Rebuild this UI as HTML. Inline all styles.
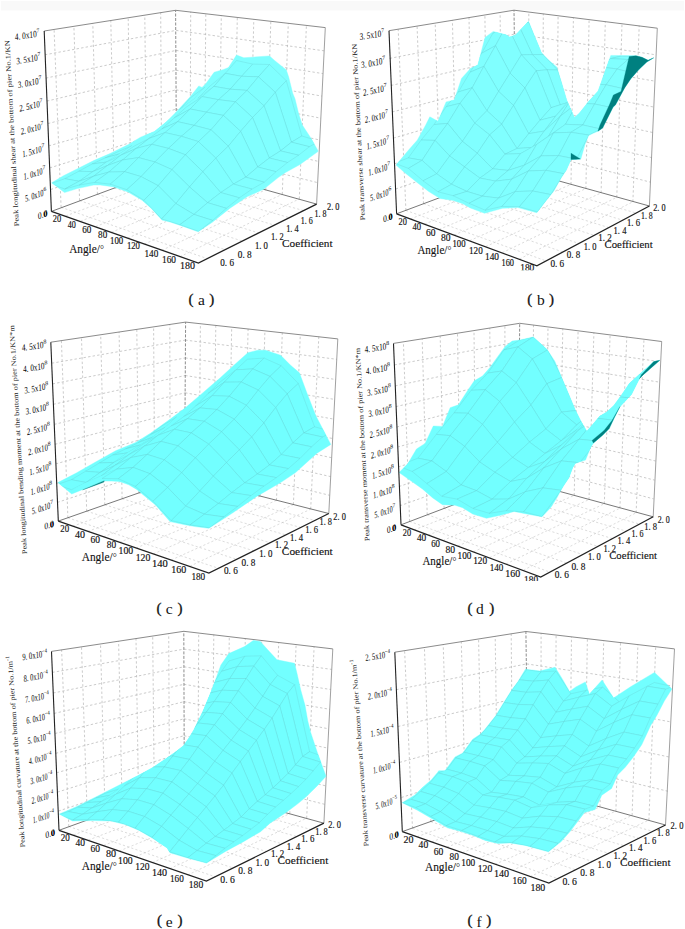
<!DOCTYPE html>
<html><head><meta charset="utf-8"><style>
html,body{margin:0;padding:0;background:#fff;}
body{width:685px;height:929px;overflow:hidden;}
svg{display:block;font-family:"Liberation Serif",serif;}
.gd{stroke:#b4b4b4;stroke-width:0.7;stroke-dasharray:2.4 2.2;fill:none}
.gf{stroke:#c4c4c4;stroke-width:0.6;stroke-dasharray:2.2 2.2;fill:none}
.bk{stroke:#808080;stroke-width:0.9;stroke-dasharray:3 1.5;fill:none}
.fb{stroke:#555;stroke-width:0.8;fill:none}
.tp{stroke:#767676;stroke-width:0.85;fill:none}
.rv{stroke:#888;stroke-width:0.8;fill:none}
.ax{stroke:#222;stroke-width:1.1;fill:none}
.ax2{stroke:#222;stroke-width:1.3;fill:none;stroke-linejoin:miter}
.sf{fill:#80ffff;stroke:#80ffff;stroke-width:0.4;stroke-linejoin:round}
.dk{fill:#008080;stroke:#008080;stroke-width:0.3}
.dl{fill:none;stroke:#008080;stroke-width:1.4}
.ms{fill:none;stroke:#5fd6d8;stroke-width:0.5}
.pc .sf,.pd .sf,.pe .sf,.pf .sf{fill:#72ffff;stroke:#72ffff}
.pc .mf path,.pd .mf path,.pe .mf path,.pf .mf path{fill:#72ffff}
.mf path.n{stroke:none}
.mf path{fill:#80ffff;stroke:#6ad3d6;stroke-width:0.36;stroke-linejoin:round}
text{fill:#111}
.tz{font-size:9.6px;fill:#000}
.tzb{font-weight:bold;font-size:8.5px}
.ta{font-size:9.6px;fill:#111;stroke:#111;stroke-width:0.15}
.tt{font-size:11.8px;fill:#111;stroke:#111;stroke-width:0.12}
.tc{font-size:11.3px;fill:#111;stroke:#111;stroke-width:0.12}
.ty{font-size:7px;fill:#222}
.cap{font-size:15.5px;fill:#111}
.cp{stroke:#111;stroke-width:0.3;font-size:15px}
</style></head><body>
<svg width="685" height="929" viewBox="0 0 685 929">
<rect x="0" y="0" width="685" height="929" fill="#fff"/>
<rect x="1" y="1" width="683" height="9.5" fill="#f9f9f9"/>
<g class="pa"><path class="gd" d="M50.7 189.5L176.1 147M176.1 147L317.8 182.7M49.8 167.9L176.1 128.2M176.1 128.2L318.8 161.5M48.8 145.9L176.1 109.1M176.1 109.1L319.8 140M47.9 123.6L176.1 89.8M176.1 89.8L320.8 118.2M46.9 101.1L176.1 70.2M176.1 70.2L321.8 96.1M45.9 78.1L176.1 50.4M176.1 50.4L322.9 73.6M44.9 54.8L176.1 30.4M176.1 30.4L324 50.8M61.1 207.3L54.1 29.6M79.6 200.6L73.9 26.4M97.4 194.2L92.8 23.4M114.4 188L110.8 20.5M130.7 182.1L128.2 17.7M146.5 176.4L144.8 15.1M161.6 170.9L160.7 12.5M190.1 169.3L190.7 11.8M204.4 173.2L205.8 13.6M219.1 177.2L221.3 15.4M234.2 181.3L237.3 17.3M249.8 185.5L253.8 19.3M265.8 189.8L270.8 21.3M282.3 194.3L288.3 23.3M299.3 198.9L306.4 25.5"/>
<path class="gf" d="M61.1 207.3L207.7 258.8M79.6 200.6L225.6 249.8M97.4 194.2L242.6 241.2M114.4 188L258.8 233M130.7 182.1L274.3 225.1M146.5 176.4L289.1 217.6M161.6 170.9L303.2 210.5M65.8 215.9L190.1 169.3M80.5 221.2L204.4 173.2M95.7 226.6L219.1 177.2M111.4 232.3L234.2 181.3M127.7 238.1L249.8 185.5M144.4 244.1L265.8 189.8M161.8 250.3L282.3 194.3M179.8 256.8L299.3 198.9"/>
<line class="bk" x1="176.5" y1="165" x2="175.6" y2="10.3"/>
<polyline class="fb" points="51.4,211.4 176.5,165 316.6,204.1"/>
<polyline class="tp" points="44.2,31 175.6,10.3 325.3,27.6"/>
<line class="rv" x1="316.6" y1="204.1" x2="325.3" y2="27.6"/>
<polygon class="sf" points="51.7,182.8 63.4,175.8 77.4,168.8 93.7,160.6 110,153.6 128.8,144.3 140.5,137.2 154.5,131.4 166.2,122 175.5,112.7 189.5,97.5 198.8,85.9 202,87.5 206,83.5 214.1,72.3 223.7,69.4 228.5,67.5 236.5,55 243.8,57.8 269.5,55.9 274.3,60.2 286.3,69.9 288.7,77.1 292.7,93.2 295,98.8 298.6,113.4 302.3,125 311,138.2 318.3,151.3 300,164.5 285.5,172.5 278.2,177.6 263.6,189.3 247.5,196.6 230,208.2 212.1,222.4 198.1,231.8 181.8,225.9 170,222 161.9,220.1 151.4,208.4 142,200.2 128,192 114,186.9 100,185 93.7,185.1 77.4,188.6 64.5,192.6"/>
<clipPath id="clipa"><polygon points="51.7,182.8 63.4,175.8 77.4,168.8 93.7,160.6 110,153.6 128.8,144.3 140.5,137.2 154.5,131.4 166.2,122 175.5,112.7 189.5,97.5 198.8,85.9 202,87.5 206,83.5 214.1,72.3 223.7,69.4 228.5,67.5 236.5,55 243.8,57.8 269.5,55.9 274.3,60.2 286.3,69.9 288.7,77.1 292.7,93.2 295,98.8 298.6,113.4 302.3,125 311,138.2 318.3,151.3 300,164.5 285.5,172.5 278.2,177.6 263.6,189.3 247.5,196.6 230,208.2 212.1,222.4 198.1,231.8 181.8,225.9 170,222 161.9,220.1 151.4,208.4 142,200.2 128,192 114,186.9 100,185 93.7,185.1 77.4,188.6 64.5,192.6"/></clipPath>
<g class="mf" clip-path="url(#clipa)"><path class="n" d="M165.1 123.3L179.3 110.0L190.4 97.8L176.1 112.2Z"/><path class="n" d="M153.8 132.4L167.9 120.7L179.3 110.0L165.1 123.3Z"/><path d="M179.3 110.0L194.0 99.1L205.1 87.0L190.4 97.8Z"/><path class="n" d="M142.1 137.7L156.3 127.8L167.9 120.7L153.8 132.4Z"/><path class="n" d="M167.9 120.7L182.6 110.2L194.0 99.1L179.3 110.0Z"/><path class="n" d="M194.0 99.1L209.4 86.6L220.5 74.3L205.1 87.0Z"/><path class="n" d="M130.2 145.0L144.3 137.0L156.3 127.8L142.1 137.7Z"/><path class="n" d="M156.3 127.8L171.0 118.0L182.6 110.2L167.9 120.7Z"/><path class="n" d="M182.6 110.2L197.9 98.4L209.4 86.6L194.0 99.1Z"/><path class="n" d="M117.9 151.7L132.0 145.8L144.3 137.0L130.2 145.0Z"/><path class="n" d="M209.4 86.6L225.3 73.4L236.5 60.5L220.5 74.3Z"/><path class="n" d="M144.3 137.0L159.0 127.9L171.0 118.0L156.3 127.8Z"/><path class="n" d="M171.0 118.0L186.3 107.1L197.9 98.4L182.6 110.2Z"/><path d="M105.2 157.9L119.3 153.9L132.0 145.8L117.9 151.7Z"/><path d="M197.9 98.4L213.9 86.4L225.3 73.4L209.4 86.6Z"/><path class="n" d="M132.0 145.8L146.7 137.6L159.0 127.9L144.3 137.0Z"/><path d="M225.3 73.4L241.6 76.3L252.7 64.1L236.5 60.5Z"/><path class="n" d="M159.0 127.9L174.2 118.0L186.3 107.1L171.0 118.0Z"/><path d="M92.1 164.0L106.3 162.1L119.3 153.9L105.2 157.9Z"/><path class="n" d="M186.3 107.1L202.1 96.6L213.9 86.4L197.9 98.4Z"/><path class="n" d="M119.3 153.9L134.0 146.2L146.7 137.6L132.0 145.8Z"/><path d="M213.9 86.4L230.2 89.2L241.6 76.3L225.3 73.4Z"/><path d="M241.6 76.3L258.4 76.8L269.5 64.5L252.7 64.1Z"/><path class="n" d="M146.7 137.6L161.9 128.9L174.2 118.0L159.0 127.9Z"/><path d="M78.7 171.3L92.9 171.6L106.3 162.1L92.1 164.0Z"/><path d="M174.2 118.0L190.1 109.0L202.1 96.6L186.3 107.1Z"/><path class="n" d="M106.3 162.1L120.9 155.2L134.0 146.2L119.3 153.9Z"/><path d="M202.1 96.6L218.5 99.7L230.2 89.2L213.9 86.4Z"/><path d="M230.2 89.2L247.0 90.4L258.4 76.8L241.6 76.3Z"/><path d="M258.4 76.8L275.3 92.3L286.3 80.7L269.5 64.5Z"/><path class="n" d="M134.0 146.2L149.2 138.4L161.9 128.9L146.7 137.6Z"/><path d="M275.3 92.3L291.4 142.2L301.8 136.0L286.3 80.7Z"/><path d="M161.9 128.9L177.7 121.7L190.1 109.0L174.2 118.0Z"/><path d="M64.8 178.7L79.1 181.3L92.9 171.6L78.7 171.3Z"/><path d="M190.1 109.0L206.5 112.2L218.5 99.7L202.1 96.6Z"/><path d="M92.9 171.6L107.5 165.5L120.9 155.2L106.3 162.1Z"/><path d="M218.5 99.7L235.4 101.8L247.0 90.4L230.2 89.2Z"/><path d="M291.4 142.2L309.4 146.7L319.7 141.2L301.8 136.0Z"/><path d="M247.0 90.4L264.0 105.8L275.3 92.3L258.4 76.8Z"/><path d="M120.9 155.2L136.1 148.5L149.2 138.4L134.0 146.2Z"/><path d="M264.0 105.8L280.5 150.9L291.4 142.2L275.3 92.3Z"/><path d="M149.2 138.4L165.0 132.6L177.7 121.7L161.9 128.9Z"/><path d="M50.4 183.8L64.8 189.0L79.1 181.3L64.8 178.7Z"/><path d="M177.7 121.7L194.1 125.4L206.5 112.2L190.1 109.0Z"/><path d="M79.1 181.3L93.7 176.2L107.5 165.5L92.9 171.6Z"/><path d="M206.5 112.2L223.4 115.4L235.4 101.8L218.5 99.7Z"/><path d="M235.4 101.8L252.5 117.5L264.0 105.8L247.0 90.4Z"/><path d="M280.5 150.9L298.6 155.2L309.4 146.7L291.4 142.2Z"/><path d="M107.5 165.5L122.6 160.0L136.1 148.5L120.9 155.2Z"/><path d="M252.5 117.5L269.3 158.0L280.5 150.9L264.0 105.8Z"/><path d="M136.1 148.5L151.9 144.3L165.0 132.6L149.2 138.4Z"/><path d="M165.0 132.6L181.4 136.3L194.1 125.4L177.7 121.7Z"/><path d="M194.1 125.4L211.0 129.8L223.4 115.4L206.5 112.2Z"/><path d="M64.8 189.0L79.3 185.0L93.7 176.2L79.1 181.3Z"/><path d="M223.4 115.4L240.6 131.3L252.5 117.5L235.4 101.8Z"/><path d="M269.3 158.0L287.5 162.5L298.6 155.2L280.5 150.9Z"/><path d="M93.7 176.2L108.8 172.1L122.6 160.0L107.5 165.5Z"/><path d="M122.6 160.0L138.5 157.6L151.9 144.3L136.1 148.5Z"/><path d="M240.6 131.3L257.7 167.0L269.3 158.0L252.5 117.5Z"/><path d="M151.9 144.3L168.4 148.4L181.4 136.3L165.0 132.6Z"/><path d="M181.4 136.3L198.4 141.6L211.0 129.8L194.1 125.4Z"/><path d="M211.0 129.8L228.3 146.2L240.6 131.3L223.4 115.4Z"/><path d="M79.3 185.0L94.5 182.4L108.8 172.1L93.7 176.2Z"/><path d="M257.7 167.0L276.0 171.7L287.5 162.5L269.3 158.0Z"/><path d="M108.8 172.1L124.6 171.7L138.5 157.6L122.6 160.0Z"/><path d="M228.3 146.2L245.7 177.2L257.7 167.0L240.6 131.3Z"/><path d="M138.5 157.6L154.9 162.0L168.4 148.4L151.9 144.3Z"/><path d="M198.4 141.6L215.8 158.1L228.3 146.2L211.0 129.8Z"/><path d="M168.4 148.4L185.4 154.8L198.4 141.6L181.4 136.3Z"/><path d="M245.7 177.2L264.2 182.2L276.0 171.7L257.7 167.0Z"/><path d="M94.5 182.4L110.3 184.1L124.6 171.7L108.8 172.1Z"/><path d="M215.8 158.1L233.4 184.1L245.7 177.2L228.3 146.2Z"/><path d="M124.6 171.7L141.1 176.6L154.9 162.0L138.5 157.6Z"/><path d="M185.4 154.8L202.8 171.7L215.8 158.1L198.4 141.6Z"/><path d="M154.9 162.0L172.0 169.6L185.4 154.8L168.4 148.4Z"/><path d="M233.4 184.1L252.0 189.1L264.2 182.2L245.7 177.2Z"/><path d="M202.8 171.7L220.7 192.6L233.4 184.1L215.8 158.1Z"/><path d="M110.3 184.1L126.8 189.7L141.1 176.6L124.6 171.7Z"/><path d="M141.1 176.6L158.2 185.7L172.0 169.6L154.9 162.0Z"/><path d="M172.0 169.6L189.5 186.9L202.8 171.7L185.4 154.8Z"/><path d="M220.7 192.6L239.4 197.8L252.0 189.1L233.4 184.1Z"/><path d="M189.5 186.9L207.6 202.7L220.7 192.6L202.8 171.7Z"/><path d="M158.2 185.7L175.8 203.5L189.5 186.9L172.0 169.6Z"/><path d="M126.8 189.7L143.9 200.3L158.2 185.7L141.1 176.6Z"/><path d="M207.6 202.7L226.3 208.3L239.4 197.8L220.7 192.6Z"/><path d="M175.8 203.5L193.9 214.4L207.6 202.7L189.5 186.9Z"/><path d="M143.9 200.3L161.7 218.9L175.8 203.5L158.2 185.7Z"/><path d="M161.7 218.9L179.8 224.7L193.9 214.4L175.8 203.5Z"/><path d="M193.9 214.4L212.7 220.4L226.3 208.3L207.6 202.7Z"/><path d="M179.8 224.7L198.7 231.4L212.7 220.4L193.9 214.4Z"/></g>
<line class="ax" x1="51.4" y1="211.4" x2="44.2" y2="31"/>
<polyline class="ax2" points="51.4,211.4 198.4,263 316.6,204.1"/>
<text class="tz" transform="matrix(0.940 -0.341 0.043 0.999 47.4 216)" text-anchor="end" textLength="10" lengthAdjust="spacingAndGlyphs">0.0</text><text class="tz tzb" transform="matrix(0.940 -0.341 0.043 0.999 47.4 216)" text-anchor="end">0</text>
<text class="tz" transform="matrix(0.947 -0.321 0.043 0.999 46.5 194.7)" text-anchor="end"><tspan textLength="19.4" lengthAdjust="spacingAndGlyphs" xml:space="preserve">5. 0x10</tspan><tspan font-size="6" dy="-4.2">6</tspan></text>
<text class="tz" transform="matrix(0.954 -0.300 0.043 0.999 45.6 173.1)" text-anchor="end"><tspan textLength="19.8" lengthAdjust="spacingAndGlyphs" xml:space="preserve">1. 0x10</tspan><tspan font-size="6" dy="-4.2">7</tspan></text>
<text class="tz" transform="matrix(0.961 -0.278 0.043 0.999 44.6 151.1)" text-anchor="end"><tspan textLength="20.1" lengthAdjust="spacingAndGlyphs" xml:space="preserve">1. 5x10</tspan><tspan font-size="6" dy="-4.2">7</tspan></text>
<text class="tz" transform="matrix(0.967 -0.255 0.043 0.999 43.7 128.8)" text-anchor="end"><tspan textLength="20.5" lengthAdjust="spacingAndGlyphs" xml:space="preserve">2. 0x10</tspan><tspan font-size="6" dy="-4.2">7</tspan></text>
<text class="tz" transform="matrix(0.973 -0.232 0.043 0.999 42.7 106.3)" text-anchor="end"><tspan textLength="20.9" lengthAdjust="spacingAndGlyphs" xml:space="preserve">2. 5x10</tspan><tspan font-size="6" dy="-4.2">7</tspan></text>
<text class="tz" transform="matrix(0.978 -0.208 0.043 0.999 41.7 83.3)" text-anchor="end"><tspan textLength="21.2" lengthAdjust="spacingAndGlyphs" xml:space="preserve">3. 0x10</tspan><tspan font-size="6" dy="-4.2">7</tspan></text>
<text class="tz" transform="matrix(0.983 -0.183 0.043 0.999 40.7 60)" text-anchor="end"><tspan textLength="21.6" lengthAdjust="spacingAndGlyphs" xml:space="preserve">3. 5x10</tspan><tspan font-size="6" dy="-4.2">7</tspan></text>
<text class="tz" transform="matrix(0.987 -0.158 0.043 0.999 39.7 36.4)" text-anchor="end"><tspan textLength="22" lengthAdjust="spacingAndGlyphs" xml:space="preserve">4. 0x10</tspan><tspan font-size="6" dy="-4.2">7</tspan></text>
<text class="ta" x="52.8" y="221.6" textLength="8.4" lengthAdjust="spacingAndGlyphs">20</text>
<text class="ta" x="67.7" y="227.5" textLength="8.1" lengthAdjust="spacingAndGlyphs">40</text>
<text class="ta" x="82.3" y="232.5" textLength="9.1" lengthAdjust="spacingAndGlyphs">60</text>
<text class="ta" x="98.1" y="238.4" textLength="9.1" lengthAdjust="spacingAndGlyphs">80</text>
<text class="ta" x="110" y="243.5" textLength="13.2" lengthAdjust="spacingAndGlyphs">100</text>
<text class="ta" x="126.9" y="249.3" textLength="13.1" lengthAdjust="spacingAndGlyphs">120</text>
<text class="ta" x="144.5" y="256.5" textLength="13.8" lengthAdjust="spacingAndGlyphs">140</text>
<text class="ta" x="162" y="262.5" textLength="14" lengthAdjust="spacingAndGlyphs">160</text>
<text class="ta" x="180" y="269" textLength="15" lengthAdjust="spacingAndGlyphs">180</text>
<text class="ta" x="220.3" y="265.6" textLength="13.7" lengthAdjust="spacingAndGlyphs" xml:space="preserve">0. 6</text>
<text class="ta" x="237.8" y="257.6" textLength="13.9" lengthAdjust="spacingAndGlyphs" xml:space="preserve">0. 8</text>
<text class="ta" x="254.9" y="248.5" textLength="13.1" lengthAdjust="spacingAndGlyphs" xml:space="preserve">1. 0</text>
<text class="ta" x="271.1" y="239.6" textLength="12.6" lengthAdjust="spacingAndGlyphs" xml:space="preserve">1. 2</text>
<text class="ta" x="286.2" y="231.8" textLength="12.5" lengthAdjust="spacingAndGlyphs" xml:space="preserve">1. 4</text>
<text class="ta" x="300.7" y="224.1" textLength="12" lengthAdjust="spacingAndGlyphs" xml:space="preserve">1. 6</text>
<text class="ta" x="314.4" y="217" textLength="12" lengthAdjust="spacingAndGlyphs" xml:space="preserve">1. 8</text>
<text class="ta" x="327" y="209.9" textLength="12.5" lengthAdjust="spacingAndGlyphs" xml:space="preserve">2. 0</text>
<text class="tt" x="69.2" y="253.4" textLength="34.7" lengthAdjust="spacingAndGlyphs">Angle/<tspan style="stroke:none;font-size:10.5px">&#176;</tspan></text>
<text class="tc" x="282" y="247.2" textLength="50.6" lengthAdjust="spacingAndGlyphs">Coefficient</text>
<text class="ty" transform="translate(19 226.2) rotate(-92.92)" textLength="186.3" lengthAdjust="spacingAndGlyphs">Peak longitudinal shear at the bottom of pier No.1/KN</text>
<text class="cap cp" x="188.4" y="304.2">(</text><text class="cap" x="197.9" y="305.1">a</text><text class="cap cp" x="209.3" y="304.2">)</text></g>
<g class="pb"><path class="gd" d="M395.7 189L515.5 147.2M515.5 147.2L650.5 182.2M394.5 163.8L515.4 125.2M515.4 125.2L651.6 157.6M393.4 138.1L515.2 102.9M515.2 102.9L652.6 132.5M392.2 112L515.1 80.3M515.1 80.3L653.6 107M391 85.5L515 57.3M515 57.3L654.7 81.1M389.7 58.4L514.9 34M514.9 34L655.8 54.8M405.9 210.4L398.2 29.3M423.5 203.7L417.1 26.2M440.4 197.3L435.2 23.3M456.7 191.2L452.4 20.4M472.3 185.3L469 17.7M487.2 179.6L484.9 15.2M501.7 174.1L500.1 12.7M528.9 172.6L528.8 12M542.6 176.4L543.3 13.8M556.6 180.4L558.1 15.7M571 184.4L573.4 17.6M585.9 188.6L589.1 19.5M601.1 192.9L605.3 21.5M616.8 197.3L622 23.6M632.9 201.8L639.2 25.7"/>
<path class="gf" d="M405.9 210.4L546 260.9M423.5 203.7L562.9 252M440.4 197.3L579 243.5M456.7 191.2L594.4 235.4M472.3 185.3L609.1 227.7M487.2 179.6L623.2 220.3M501.7 174.1L636.7 213.2M410.5 218.9L528.9 172.6M424.6 224.1L542.6 176.4M439.2 229.4L556.6 180.4M454.2 235L571 184.4M469.7 240.7L585.9 188.6M485.8 246.6L601.1 192.9M502.3 252.7L616.8 197.3M519.5 259L632.9 201.8"/>
<line class="bk" x1="516.1" y1="169.1" x2="514" y2="10.2"/>
<polyline class="fb" points="396.6,213.8 516.1,169.1 649.4,206"/>
<polyline class="tp" points="389,30.7 514,10.2 657.3,28.2"/>
<line class="rv" x1="649.4" y1="206" x2="657.3" y2="28.2"/>
<polygon class="sf" points="396,165.1 408.6,150 417.4,140 425.7,125 429.8,116.8 438,121.3 446.1,101.9 454.3,99.9 461.5,78.4 470.7,68.2 477.8,65.1 485,37.5 493.2,31.4 506.5,35 509.5,37.1 515.7,35 528.5,21.3 534.3,35.4 541.5,52.8 548.6,60 556.8,67.1 560.9,80.4 567,100.9 574.5,117.5 579.3,113.2 588.6,101.5 598.1,91 610.8,55.4 628,55.6 636,55.7 642,57.3 648.1,60.3 653.7,57.8 646.8,62 638.9,69.5 630.8,78.7 624.6,87.9 615.4,105 613.1,107 602.6,128 597.9,131.3 593.2,133.3 588.6,135.6 585,144.4 581,158.4 580.4,159.2 571,159.6 566.4,170 561.4,177.6 553.9,190.9 546.3,200.4 536.8,212.7 517.8,207.6 502.6,208.3 484.6,213.3 470.4,208 462.8,203.8 453.3,200.4 440,198.5 428.7,191.5 417.4,182.7 404.8,172.7"/>
<clipPath id="clipb"><polygon points="396,165.1 408.6,150 417.4,140 425.7,125 429.8,116.8 438,121.3 446.1,101.9 454.3,99.9 461.5,78.4 470.7,68.2 477.8,65.1 485,37.5 493.2,31.4 506.5,35 509.5,37.1 515.7,35 528.5,21.3 534.3,35.4 541.5,52.8 548.6,60 556.8,67.1 560.9,80.4 567,100.9 574.5,117.5 579.3,113.2 588.6,101.5 598.1,91 610.8,55.4 628,55.6 636,55.7 642,57.3 648.1,60.3 653.7,57.8 646.8,62 638.9,69.5 630.8,78.7 624.6,87.9 615.4,105 613.1,107 602.6,128 597.9,131.3 593.2,133.3 588.6,135.6 585,144.4 581,158.4 580.4,159.2 571,159.6 566.4,170 561.4,177.6 553.9,190.9 546.3,200.4 536.8,212.7 517.8,207.6 502.6,208.3 484.6,213.3 470.4,208 462.8,203.8 453.3,200.4 440,198.5 428.7,191.5 417.4,182.7 404.8,172.7"/></clipPath>
<g class="mf" clip-path="url(#clipb)"><path d="M504.1 35.2L518.0 23.8L528.8 22.2L514.9 35.3Z"/><path d="M518.0 23.8L532.4 54.6L543.1 54.6L528.8 22.2Z"/><path d="M492.8 33.4L506.8 24.7L518.0 23.8L504.1 35.2Z"/><path d="M532.4 54.6L547.1 69.8L557.6 70.0L543.1 54.6Z"/><path d="M547.1 69.8L561.8 108.9L572.0 112.3L557.6 70.0Z"/><path d="M506.8 24.7L521.4 54.8L532.4 54.6L518.0 23.8Z"/><path d="M481.6 53.3L495.5 45.7L506.8 24.7L492.8 33.4Z"/><path d="M561.8 108.9L577.3 101.4L587.5 103.3L572.0 112.3Z"/><path d="M521.4 54.8L536.2 70.8L547.1 69.8L532.4 54.6Z"/><path d="M470.1 72.2L483.9 66.3L495.5 45.7L481.6 53.3Z"/><path d="M495.5 45.7L510.1 73.1L521.4 54.8L506.8 24.7Z"/><path d="M536.2 70.8L551.1 107.7L561.8 108.9L547.1 69.8Z"/><path d="M458.3 92.0L472.2 87.8L483.9 66.3L470.1 72.2Z"/><path d="M510.1 73.1L524.9 87.9L536.2 70.8L521.4 54.8Z"/><path d="M483.9 66.3L498.6 91.4L510.1 73.1L495.5 45.7Z"/><path d="M551.1 107.7L566.6 102.8L577.3 101.4L561.8 108.9Z"/><path d="M524.9 87.9L540.0 120.2L551.1 107.7L536.2 70.8Z"/><path d="M577.3 101.4L593.7 76.2L604.0 75.0L587.5 103.3Z"/><path d="M446.2 106.7L460.0 103.3L472.2 87.8L458.3 92.0Z"/><path d="M498.6 91.4L513.5 105.4L524.9 87.9L510.1 73.1Z"/><path d="M472.2 87.8L486.9 110.7L498.6 91.4L483.9 66.3Z"/><path d="M540.0 120.2L555.6 116.2L566.6 102.8L551.1 107.7Z"/><path d="M513.5 105.4L528.7 133.7L540.0 120.2L524.9 87.9Z"/><path d="M486.9 110.7L501.7 124.2L513.5 105.4L498.6 91.4Z"/><path d="M433.9 124.6L447.7 123.4L460.0 103.3L446.2 106.7Z"/><path d="M460.0 103.3L474.8 123.1L486.9 110.7L472.2 87.8Z"/><path d="M566.6 102.8L583.0 82.0L593.7 76.2L577.3 101.4Z"/><path d="M528.7 133.7L544.2 131.1L555.6 116.2L540.0 120.2Z"/><path d="M593.7 76.2L610.7 58.6L621.0 56.1L604.0 75.0Z"/><path d="M501.7 124.2L517.0 148.5L528.7 133.7L513.5 105.4Z"/><path d="M421.2 140.0L435.0 140.4L447.7 123.4L433.9 124.6Z"/><path d="M474.8 123.1L489.6 134.9L501.7 124.2L486.9 110.7Z"/><path d="M447.7 123.4L462.4 141.4L474.8 123.1L460.0 103.3Z"/><path class="n" d="M555.6 116.2L571.9 98.0L583.0 82.0L566.6 102.8Z"/><path d="M517.0 148.5L532.5 147.4L544.2 131.1L528.7 133.7Z"/><path d="M489.6 134.9L505.0 154.2L517.0 148.5L501.7 124.2Z"/><path d="M408.3 157.9L422.1 160.3L435.0 140.4L421.2 140.0Z"/><path d="M462.4 141.4L477.3 153.2L489.6 134.9L474.8 123.1Z"/><path class="n" d="M583.0 82.0L600.0 66.9L610.7 58.6L593.7 76.2Z"/><path d="M435.0 140.4L449.7 156.0L462.4 141.4L447.7 123.4Z"/><path d="M610.7 58.6L627.9 59.5L638.0 56.9L621.0 56.1Z"/><path d="M544.2 131.1L560.4 116.2L571.9 98.0L555.6 116.2Z"/><path d="M505.0 154.2L520.5 153.6L532.5 147.4L517.0 148.5Z"/><path d="M477.3 153.2L492.7 168.8L505.0 154.2L489.6 134.9Z"/><path d="M394.5 163.1L408.4 168.4L422.1 160.3L408.3 157.9Z"/><path d="M449.7 156.0L464.6 166.9L477.3 153.2L462.4 141.4Z"/><path d="M422.1 160.3L436.7 173.8L449.7 156.0L435.0 140.4Z"/><path d="M571.9 98.0L588.8 83.6L600.0 66.9L583.0 82.0Z"/><path d="M532.5 147.4L548.7 135.9L560.4 116.2L544.2 131.1Z"/><path d="M600.0 66.9L617.2 69.0L627.9 59.5L610.7 58.6Z"/><path d="M627.9 59.5L645.6 62.5L655.6 59.6L638.0 56.9Z"/><path d="M464.6 166.9L479.9 178.1L492.7 168.8L477.3 153.2Z"/><path d="M436.7 173.8L451.6 184.3L464.6 166.9L449.7 156.0Z"/><path d="M492.7 168.8L508.2 170.4L520.5 153.6L505.0 154.2Z"/><path d="M560.4 116.2L577.3 103.1L588.8 83.6L571.9 98.0Z"/><path d="M408.4 168.4L423.1 180.8L436.7 173.8L422.1 160.3Z"/><path class="n" d="M520.5 153.6L536.7 144.4L548.7 135.9L532.5 147.4Z"/><path d="M588.8 83.6L606.1 84.8L617.2 69.0L600.0 66.9Z"/><path d="M617.2 69.0L634.9 73.6L645.6 62.5L627.9 59.5Z"/><path d="M548.7 135.9L565.5 124.3L577.3 103.1L560.4 116.2Z"/><path d="M451.6 184.3L466.9 191.4L479.9 178.1L464.6 166.9Z"/><path d="M423.1 180.8L438.0 191.8L451.6 184.3L436.7 173.8Z"/><path d="M479.9 178.1L495.5 181.1L508.2 170.4L492.7 168.8Z"/><path d="M508.2 170.4L524.3 165.2L536.7 144.4L520.5 153.6Z"/><path d="M577.3 103.1L594.6 104.0L606.1 84.8L588.8 83.6Z"/><path d="M606.1 84.8L623.9 88.8L634.9 73.6L617.2 69.0Z"/><path class="n" d="M536.7 144.4L553.5 132.9L565.5 124.3L548.7 135.9Z"/><path d="M438.0 191.8L453.2 195.7L466.9 191.4L451.6 184.3Z"/><path d="M466.9 191.4L482.5 196.2L495.5 181.1L479.9 178.1Z"/><path d="M565.5 124.3L582.8 125.0L594.6 104.0L577.3 103.1Z"/><path d="M495.5 181.1L511.7 179.2L524.3 165.2L508.2 170.4Z"/><path d="M594.6 104.0L612.4 107.8L623.9 88.8L606.1 84.8Z"/><path d="M524.3 165.2L541.1 155.9L553.5 132.9L536.7 144.4Z"/><path d="M453.2 195.7L469.0 203.3L482.5 196.2L466.9 191.4Z"/><path d="M553.5 132.9L570.9 132.3L582.8 125.0L565.5 124.3Z"/><path d="M482.5 196.2L498.7 198.1L511.7 179.2L495.5 181.1Z"/><path d="M582.8 125.0L600.7 129.0L612.4 107.8L594.6 104.0Z"/><path d="M511.7 179.2L528.4 171.0L541.1 155.9L524.3 165.2Z"/><path d="M541.1 155.9L558.5 155.6L570.9 132.3L553.5 132.9Z"/><path d="M469.0 203.3L485.2 210.2L498.7 198.1L482.5 196.2Z"/><path d="M570.9 132.3L588.9 135.1L600.7 129.0L582.8 125.0Z"/><path d="M498.7 198.1L515.3 191.6L528.4 171.0L511.7 179.2Z"/><path d="M528.4 171.0L545.8 170.3L558.5 155.6L541.1 155.9Z"/><path d="M558.5 155.6L576.4 159.2L588.9 135.1L570.9 132.3Z"/><path d="M485.2 210.2L501.9 206.4L515.3 191.6L498.7 198.1Z"/><path d="M515.3 191.6L532.7 191.0L545.8 170.3L528.4 171.0Z"/><path d="M545.8 170.3L563.8 173.7L576.4 159.2L558.5 155.6Z"/><path d="M501.9 206.4L519.3 206.8L532.7 191.0L515.3 191.6Z"/><path d="M532.7 191.0L550.8 194.6L563.8 173.7L545.8 170.3Z"/><path d="M519.3 206.8L537.4 211.9L550.8 194.6L532.7 191.0Z"/></g>
<polygon class="dk" points="629.2,56.5 636,55.7 642,57.3 648.1,60.3 653.7,57.8 646.8,62 638.9,69.5 630.8,78.7 624.6,87.9 615.4,105 613.1,107 602.6,128 597.9,131.3 600,125 609.3,105 613.4,95 621,91.5"/>
<polygon class="dk" points="571,153.2 571,159.6 580.4,159"/>
<line class="ax" x1="396.6" y1="213.8" x2="389" y2="30.7"/>
<polyline class="ax2" points="396.6,213.8 536.9,265.8 649.4,206"/>
<text class="tz" transform="matrix(0.935 -0.354 0.045 0.999 392.6 219)" text-anchor="end" textLength="10" lengthAdjust="spacingAndGlyphs">0.0</text><text class="tz tzb" transform="matrix(0.935 -0.354 0.045 0.999 392.6 219)" text-anchor="end">0</text>
<text class="tz" transform="matrix(0.944 -0.330 0.045 0.999 391.5 194.2)" text-anchor="end"><tspan textLength="19.4" lengthAdjust="spacingAndGlyphs" xml:space="preserve">5. 0x10</tspan><tspan font-size="6" dy="-4.2">6</tspan></text>
<text class="tz" transform="matrix(0.953 -0.304 0.045 0.999 390.3 169)" text-anchor="end"><tspan textLength="19.9" lengthAdjust="spacingAndGlyphs" xml:space="preserve">1. 0x10</tspan><tspan font-size="6" dy="-4.2">7</tspan></text>
<text class="tz" transform="matrix(0.961 -0.278 0.045 0.999 389.2 143.3)" text-anchor="end"><tspan textLength="20.3" lengthAdjust="spacingAndGlyphs" xml:space="preserve">1. 5x10</tspan><tspan font-size="6" dy="-4.2">7</tspan></text>
<text class="tz" transform="matrix(0.968 -0.250 0.045 0.999 388 117.2)" text-anchor="end"><tspan textLength="20.7" lengthAdjust="spacingAndGlyphs" xml:space="preserve">2. 0x10</tspan><tspan font-size="6" dy="-4.2">7</tspan></text>
<text class="tz" transform="matrix(0.975 -0.221 0.045 0.999 386.8 90.7)" text-anchor="end"><tspan textLength="21.1" lengthAdjust="spacingAndGlyphs" xml:space="preserve">2. 5x10</tspan><tspan font-size="6" dy="-4.2">7</tspan></text>
<text class="tz" transform="matrix(0.981 -0.192 0.045 0.999 385.5 63.6)" text-anchor="end"><tspan textLength="21.6" lengthAdjust="spacingAndGlyphs" xml:space="preserve">3. 0x10</tspan><tspan font-size="6" dy="-4.2">7</tspan></text>
<text class="tz" transform="matrix(0.987 -0.161 0.045 0.999 384.3 36.1)" text-anchor="end"><tspan textLength="22" lengthAdjust="spacingAndGlyphs" xml:space="preserve">3. 5x10</tspan><tspan font-size="6" dy="-4.2">7</tspan></text>
<text class="ta" x="398.5" y="224.5" textLength="8.3" lengthAdjust="spacingAndGlyphs">20</text>
<text class="ta" x="412.4" y="230.2" textLength="8.6" lengthAdjust="spacingAndGlyphs">40</text>
<text class="ta" x="426" y="235.5" textLength="9.5" lengthAdjust="spacingAndGlyphs">60</text>
<text class="ta" x="441" y="241" textLength="9.5" lengthAdjust="spacingAndGlyphs">80</text>
<text class="ta" x="452.5" y="247.3" textLength="13.1" lengthAdjust="spacingAndGlyphs">100</text>
<text class="ta" x="469" y="253.5" textLength="13.7" lengthAdjust="spacingAndGlyphs">120</text>
<text class="ta" x="485" y="259.8" textLength="14" lengthAdjust="spacingAndGlyphs">140</text>
<text class="ta" x="501.5" y="266.1" textLength="12.5" lengthAdjust="spacingAndGlyphs">160</text>
<clipPath id="kb"><rect x="515.2" y="250.3" width="40" height="20"/></clipPath>
<text class="ta" x="520.2" y="271.4" textLength="14.1" lengthAdjust="spacingAndGlyphs" clip-path="url(#kb)">180</text>
<text class="ta" x="550.4" y="267.4" textLength="13.8" lengthAdjust="spacingAndGlyphs" xml:space="preserve">0. 6</text>
<text class="ta" x="566.8" y="258.2" textLength="13.5" lengthAdjust="spacingAndGlyphs" xml:space="preserve">0. 8</text>
<text class="ta" x="583.7" y="249.5" textLength="12.7" lengthAdjust="spacingAndGlyphs" xml:space="preserve">1. 0</text>
<text class="ta" x="598.2" y="241" textLength="13.6" lengthAdjust="spacingAndGlyphs" xml:space="preserve">1. 2</text>
<text class="ta" x="613.6" y="234" textLength="12.8" lengthAdjust="spacingAndGlyphs" xml:space="preserve">1. 4</text>
<text class="ta" x="627" y="226.4" textLength="13" lengthAdjust="spacingAndGlyphs" xml:space="preserve">1. 6</text>
<text class="ta" x="641" y="218.8" textLength="11.7" lengthAdjust="spacingAndGlyphs" xml:space="preserve">1. 8</text>
<text class="ta" x="653.2" y="211" textLength="12.3" lengthAdjust="spacingAndGlyphs" xml:space="preserve">2. 0</text>
<text class="tt" x="417.4" y="253.8" textLength="33.9" lengthAdjust="spacingAndGlyphs">Angle/<tspan style="stroke:none;font-size:10.5px">&#176;</tspan></text>
<text class="tc" x="604.6" y="247.6" textLength="48.1" lengthAdjust="spacingAndGlyphs">Coefficient</text>
<text class="ty" transform="translate(365 220.2) rotate(-92.72)" textLength="176.7" lengthAdjust="spacingAndGlyphs">Peak transverse shear at the bottom of pier No.1/KN</text>
<text class="cap cp" x="527.2" y="304.3">(</text><text class="cap" x="537.1" y="305.1">b</text><text class="cap cp" x="549" y="304.3">)</text></g>
<g class="pc"><path class="gd" d="M57.4 502.4L184.9 460.3M184.9 460.3L329.6 495.3M56.6 483.3L185 443.7M185 443.7L330.6 476.6M55.8 463.9L185 426.9M185 426.9L331.6 457.7M55 444.3L185.1 410M185.1 410L332.6 438.5M54.2 424.4L185.1 392.8M185.1 392.8L333.7 419.1M53.4 404.3L185.2 375.5M185.2 375.5L334.7 399.4M52.6 383.9L185.3 357.9M185.3 357.9L335.8 379.5M51.8 363.2L185.3 340.1M185.3 340.1L336.8 359.3M67.9 517.8L61.4 340.6M86.7 511.2L81.5 337.6M104.8 504.8L100.7 334.8M122.1 498.7L119.1 332M138.8 492.9L136.8 329.4M154.7 487.3L153.6 326.9M170.1 481.9L169.8 324.5M199.1 480.3L200.4 323.8M213.7 484.1L215.8 325.5M228.7 488L231.7 327.2M244.2 492L248.1 329M260.1 496.1L264.9 330.9M276.5 500.3L282.3 332.8M293.4 504.6L300.3 334.7M310.7 509.1L318.8 336.7"/>
<path class="gf" d="M67.9 517.8L218.4 568.3M86.7 511.2L236.5 559.3M104.8 504.8L253.7 550.8M122.1 498.7L270.1 542.7M138.8 492.9L285.8 534.9M154.7 487.3L300.7 527.5M170.1 481.9L315 520.5M72.7 526.3L199.1 480.3M87.8 531.4L213.7 484.1M103.4 536.8L228.7 488M119.5 542.3L244.2 492M136.2 548L260.1 496.1M153.4 553.9L276.5 500.3M171.3 560L293.4 504.6M189.8 566.3L310.7 509.1"/>
<line class="bk" x1="184.6" y1="476.9" x2="185.6" y2="322.1"/>
<polyline class="fb" points="58.3,521.1 184.6,476.9 328.8,513.5"/>
<polyline class="tp" points="50.8,342.2 185.6,322.1 337.8,338.9"/>
<line class="rv" x1="328.8" y1="513.5" x2="337.8" y2="338.9"/>
<polygon class="sf" points="57.9,482.6 76.3,473 94.7,462.5 115.7,450.7 135.7,442.5 150.8,433.1 170,419.3 185.1,408 202.7,392.9 220.3,377.8 235.3,364 247.9,352.7 257.9,350.2 265.5,350.2 280.6,355.2 290.6,365.3 299.4,372.8 306.9,392.9 315.7,415.5 330.8,444.4 317,453.2 309.4,460 295.6,472.6 280.6,482.6 256.7,496.4 232.8,512.8 208.9,528.3 195.1,526.6 185.1,524.8 170,521.6 155.8,505.2 140.7,492.7 136.7,489.4 128.8,484.8 119.6,481.5 111.8,481.1 103.9,481.1 82.9,489.4 71.7,494"/>
<clipPath id="clipc"><polygon points="57.9,482.6 76.3,473 94.7,462.5 115.7,450.7 135.7,442.5 150.8,433.1 170,419.3 185.1,408 202.7,392.9 220.3,377.8 235.3,364 247.9,352.7 257.9,350.2 265.5,350.2 280.6,355.2 290.6,365.3 299.4,372.8 306.9,392.9 315.7,415.5 330.8,444.4 317,453.2 309.4,460 295.6,472.6 280.6,482.6 256.7,496.4 232.8,512.8 208.9,528.3 195.1,526.6 185.1,524.8 170,521.6 155.8,505.2 140.7,492.7 136.7,489.4 128.8,484.8 119.6,481.5 111.8,481.1 103.9,481.1 82.9,489.4 71.7,494"/></clipPath>
<g class="mf" clip-path="url(#clipc)"><path class="n" d="M173.8 417.0L188.5 406.8L199.8 396.9L185.1 408.0Z"/><path class="n" d="M162.2 425.7L176.9 416.9L188.5 406.8L173.8 417.0Z"/><path class="n" d="M188.5 406.8L203.7 395.3L215.0 385.4L199.8 396.9Z"/><path d="M150.4 434.7L165.0 427.5L176.9 416.9L162.2 425.7Z"/><path class="n" d="M176.9 416.9L192.1 405.9L203.7 395.3L188.5 406.8Z"/><path class="n" d="M203.7 395.3L219.5 382.5L230.9 372.6L215.0 385.4Z"/><path d="M138.2 442.7L152.8 437.1L165.0 427.5L150.4 434.7Z"/><path class="n" d="M165.0 427.5L180.1 417.2L192.1 405.9L176.9 416.9Z"/><path class="n" d="M192.1 405.9L207.9 393.7L219.5 382.5L203.7 395.3Z"/><path d="M125.6 448.9L140.2 445.0L152.8 437.1L138.2 442.7Z"/><path class="n" d="M152.8 437.1L167.9 427.4L180.1 417.2L165.0 427.5Z"/><path class="n" d="M219.5 382.5L236.0 369.8L247.4 359.2L230.9 372.6Z"/><path class="n" d="M180.1 417.2L195.9 405.8L207.9 393.7L192.1 405.9Z"/><path d="M112.6 455.1L127.2 452.9L140.2 445.0L125.6 448.9Z"/><path d="M207.9 393.7L224.3 382.2L236.0 369.8L219.5 382.5Z"/><path class="n" d="M140.2 445.0L155.3 436.0L167.9 427.4L152.8 437.1Z"/><path d="M236.0 369.8L252.8 368.9L264.1 358.1L247.4 359.2Z"/><path class="n" d="M167.9 427.4L183.6 416.7L195.9 405.8L180.1 417.2Z"/><path d="M99.3 463.0L113.9 462.4L127.2 452.9L112.6 455.1Z"/><path d="M195.9 405.8L212.3 395.6L224.3 382.2L207.9 393.7Z"/><path class="n" d="M127.2 452.9L142.3 444.5L155.3 436.0L140.2 445.0Z"/><path d="M224.3 382.2L241.2 382.0L252.8 368.9L236.0 369.8Z"/><path d="M252.8 368.9L270.0 376.4L281.2 365.7L264.1 358.1Z"/><path class="n" d="M155.3 436.0L171.0 426.1L183.6 416.7L167.9 427.4Z"/><path d="M183.6 416.7L200.0 407.9L212.3 395.6L195.9 405.8Z"/><path d="M85.5 471.3L100.2 472.4L113.9 462.4L99.3 463.0Z"/><path class="n" d="M113.9 462.4L129.0 454.6L142.3 444.5L127.2 452.9Z"/><path d="M212.3 395.6L229.2 396.3L241.2 382.0L224.3 382.2Z"/><path d="M270.0 376.4L287.2 393.8L298.3 383.5L281.2 365.7Z"/><path d="M241.2 382.0L258.3 390.1L270.0 376.4L252.8 368.9Z"/><path class="n" d="M142.3 444.5L158.0 435.3L171.0 426.1L155.3 436.0Z"/><path d="M287.2 393.8L303.9 432.9L314.6 426.8L298.3 383.5Z"/><path d="M171.0 426.1L187.4 418.7L200.0 407.9L183.6 416.7Z"/><path d="M71.4 479.7L86.1 482.5L100.2 472.4L85.5 471.3Z"/><path d="M200.0 407.9L216.9 409.5L229.2 396.3L212.3 395.6Z"/><path d="M100.2 472.4L115.2 465.3L129.0 454.6L113.9 462.4Z"/><path d="M258.3 390.1L275.7 407.5L287.2 393.8L270.0 376.4Z"/><path d="M229.2 396.3L246.4 405.3L258.3 390.1L241.2 382.0Z"/><path d="M303.9 432.9L322.5 437.0L333.0 431.8L314.6 426.8Z"/><path d="M129.0 454.6L144.6 446.1L158.0 435.3L142.3 444.5Z"/><path d="M275.7 407.5L292.8 442.9L303.9 432.9L287.2 393.8Z"/><path d="M158.0 435.3L174.4 429.3L187.4 418.7L171.0 426.1Z"/><path d="M56.7 484.7L71.5 489.7L86.1 482.5L71.4 479.7Z"/><path d="M187.4 418.7L204.3 421.3L216.9 409.5L200.0 407.9Z"/><path d="M246.4 405.3L263.9 422.9L275.7 407.5L258.3 390.1Z"/><path d="M86.1 482.5L101.1 476.1L115.2 465.3L100.2 472.4Z"/><path d="M216.9 409.5L234.2 419.2L246.4 405.3L229.2 396.3Z"/><path d="M292.8 442.9L311.5 446.8L322.5 437.0L303.9 432.9Z"/><path d="M115.2 465.3L130.9 457.6L144.6 446.1L129.0 454.6Z"/><path d="M263.9 422.9L281.2 454.6L292.8 442.9L275.7 407.5Z"/><path d="M144.6 446.1L161.0 441.4L174.4 429.3L158.0 435.3Z"/><path d="M234.2 419.2L251.7 437.0L263.9 422.9L246.4 405.3Z"/><path d="M174.4 429.3L191.3 432.9L204.3 421.3L187.4 418.7Z"/><path d="M204.3 421.3L221.6 431.8L234.2 419.2L216.9 409.5Z"/><path class="n" d="M71.5 489.7L86.4 484.3L101.1 476.1L86.1 482.5Z"/><path d="M281.2 454.6L300.0 458.4L311.5 446.8L292.8 442.9Z"/><path d="M101.1 476.1L116.7 469.2L130.9 457.6L115.2 465.3Z"/><path d="M251.7 437.0L269.4 465.0L281.2 454.6L263.9 422.9Z"/><path d="M130.9 457.6L147.2 454.4L161.0 441.4L144.6 446.1Z"/><path d="M221.6 431.8L239.3 449.8L251.7 437.0L234.2 419.2Z"/><path d="M161.0 441.4L177.9 445.8L191.3 432.9L174.4 429.3Z"/><path d="M191.3 432.9L208.7 444.1L221.6 431.8L204.3 421.3Z"/><path d="M269.4 465.0L288.3 468.6L300.0 458.4L281.2 454.6Z"/><path class="n" d="M86.4 484.3L102.0 478.5L116.7 469.2L101.1 476.1Z"/><path d="M239.3 449.8L257.2 474.1L269.4 465.0L251.7 437.0Z"/><path d="M116.7 469.2L133.0 467.4L147.2 454.4L130.9 457.6Z"/><path d="M208.7 444.1L226.5 462.4L239.3 449.8L221.6 431.8Z"/><path d="M147.2 454.4L164.2 459.8L177.9 445.8L161.0 441.4Z"/><path d="M177.9 445.8L195.4 457.8L208.7 444.1L191.3 432.9Z"/><path d="M257.2 474.1L276.3 477.6L288.3 468.6L269.4 465.0Z"/><path d="M226.5 462.4L244.7 482.8L257.2 474.1L239.3 449.8Z"/><path d="M102.0 478.5L118.3 478.7L133.0 467.4L116.7 469.2Z"/><path d="M195.4 457.8L213.3 476.2L226.5 462.4L208.7 444.1Z"/><path d="M133.0 467.4L150.0 473.7L164.2 459.8L147.2 454.4Z"/><path d="M164.2 459.8L181.7 472.6L195.4 457.8L177.9 445.8Z"/><path d="M244.7 482.8L263.8 486.2L276.3 477.6L257.2 474.1Z"/><path d="M213.3 476.2L231.7 492.6L244.7 482.8L226.5 462.4Z"/><path d="M181.7 472.6L199.7 491.1L213.3 476.2L195.4 457.8Z"/><path d="M150.0 473.7L167.6 487.4L181.7 472.6L164.2 459.8Z"/><path d="M118.3 478.7L135.4 486.4L150.0 473.7L133.0 467.4Z"/><path d="M231.7 492.6L251.0 495.6L263.8 486.2L244.7 482.8Z"/><path d="M199.7 491.1L218.3 503.5L231.7 492.6L213.3 476.2Z"/><path d="M167.6 487.4L185.7 506.1L199.7 491.1L181.7 472.6Z"/><path d="M135.4 486.4L153.0 501.3L167.6 487.4L150.0 473.7Z"/><path d="M185.7 506.1L204.4 514.2L218.3 503.5L199.7 491.1Z"/><path d="M218.3 503.5L237.6 506.4L251.0 495.6L231.7 492.6Z"/><path d="M153.0 501.3L171.2 520.6L185.7 506.1L167.6 487.4Z"/><path d="M171.2 520.6L190.0 524.9L204.4 514.2L185.7 506.1Z"/><path d="M204.4 514.2L223.8 516.9L237.6 506.4L218.3 503.5Z"/><path d="M190.0 524.9L209.5 527.8L223.8 516.9L204.4 514.2Z"/></g>
<polygon class="dk" points="82.6,489.9 104.2,480.8 103.6,482.3"/>
<line class="ax" x1="58.3" y1="521.1" x2="50.8" y2="342.2"/>
<polyline class="ax2" points="58.3,521.1 208.9,573.1 328.8,513.5"/>
<text class="tz" transform="matrix(0.943 -0.332 0.040 0.999 53.9 526.5)" text-anchor="end" textLength="10" lengthAdjust="spacingAndGlyphs">0.0</text><text class="tz tzb" transform="matrix(0.943 -0.332 0.040 0.999 53.9 526.5)" text-anchor="end">0</text>
<text class="tz" transform="matrix(0.950 -0.314 0.040 0.999 53.2 507.6)" text-anchor="end"><tspan textLength="19.3" lengthAdjust="spacingAndGlyphs" xml:space="preserve">5. 0x10</tspan><tspan font-size="6" dy="-4.2">7</tspan></text>
<text class="tz" transform="matrix(0.956 -0.295 0.040 0.999 52.4 488.5)" text-anchor="end"><tspan textLength="19.7" lengthAdjust="spacingAndGlyphs" xml:space="preserve">1. 0x10</tspan><tspan font-size="6" dy="-4.2">8</tspan></text>
<text class="tz" transform="matrix(0.961 -0.275 0.040 0.999 51.6 469.1)" text-anchor="end"><tspan textLength="20" lengthAdjust="spacingAndGlyphs" xml:space="preserve">1. 5x10</tspan><tspan font-size="6" dy="-4.2">8</tspan></text>
<text class="tz" transform="matrix(0.967 -0.255 0.040 0.999 50.8 449.5)" text-anchor="end"><tspan textLength="20.3" lengthAdjust="spacingAndGlyphs" xml:space="preserve">2. 0x10</tspan><tspan font-size="6" dy="-4.2">8</tspan></text>
<text class="tz" transform="matrix(0.972 -0.235 0.040 0.999 50 429.6)" text-anchor="end"><tspan textLength="20.7" lengthAdjust="spacingAndGlyphs" xml:space="preserve">2. 5x10</tspan><tspan font-size="6" dy="-4.2">8</tspan></text>
<text class="tz" transform="matrix(0.977 -0.214 0.040 0.999 49.2 409.5)" text-anchor="end"><tspan textLength="21" lengthAdjust="spacingAndGlyphs" xml:space="preserve">3. 0x10</tspan><tspan font-size="6" dy="-4.2">8</tspan></text>
<text class="tz" transform="matrix(0.981 -0.192 0.040 0.999 48.4 389.1)" text-anchor="end"><tspan textLength="21.3" lengthAdjust="spacingAndGlyphs" xml:space="preserve">3. 5x10</tspan><tspan font-size="6" dy="-4.2">8</tspan></text>
<text class="tz" transform="matrix(0.985 -0.170 0.040 0.999 47.6 368.4)" text-anchor="end"><tspan textLength="21.7" lengthAdjust="spacingAndGlyphs" xml:space="preserve">4. 0x10</tspan><tspan font-size="6" dy="-4.2">8</tspan></text>
<text class="tz" transform="matrix(0.989 -0.147 0.040 0.999 46.7 347.4)" text-anchor="end"><tspan textLength="22" lengthAdjust="spacingAndGlyphs" xml:space="preserve">4. 5x10</tspan><tspan font-size="6" dy="-4.2">8</tspan></text>
<text class="ta" x="60.3" y="532.1" textLength="8.8" lengthAdjust="spacingAndGlyphs">20</text>
<text class="ta" x="74.9" y="538.4" textLength="10" lengthAdjust="spacingAndGlyphs">40</text>
<text class="ta" x="90.5" y="543.4" textLength="9.5" lengthAdjust="spacingAndGlyphs">60</text>
<text class="ta" x="106.8" y="548.4" textLength="9.3" lengthAdjust="spacingAndGlyphs">80</text>
<text class="ta" x="118.6" y="554" textLength="14.6" lengthAdjust="spacingAndGlyphs">100</text>
<text class="ta" x="135.7" y="560.5" textLength="14.6" lengthAdjust="spacingAndGlyphs">120</text>
<text class="ta" x="152" y="567.3" textLength="15.8" lengthAdjust="spacingAndGlyphs">140</text>
<text class="ta" x="171.3" y="573.1" textLength="15" lengthAdjust="spacingAndGlyphs">160</text>
<text class="ta" x="191.4" y="579.8" textLength="13.8" lengthAdjust="spacingAndGlyphs">180</text>
<text class="ta" x="224" y="574.3" textLength="13.8" lengthAdjust="spacingAndGlyphs" xml:space="preserve">0. 6</text>
<text class="ta" x="241.6" y="565.5" textLength="13.8" lengthAdjust="spacingAndGlyphs" xml:space="preserve">0. 8</text>
<text class="ta" x="259.2" y="556.7" textLength="13.3" lengthAdjust="spacingAndGlyphs" xml:space="preserve">1. 0</text>
<text class="ta" x="275" y="548" textLength="13.1" lengthAdjust="spacingAndGlyphs" xml:space="preserve">1. 2</text>
<text class="ta" x="290.1" y="540.9" textLength="13.1" lengthAdjust="spacingAndGlyphs" xml:space="preserve">1. 4</text>
<text class="ta" x="305.2" y="532.9" textLength="13" lengthAdjust="spacingAndGlyphs" xml:space="preserve">1. 6</text>
<text class="ta" x="319.5" y="525.3" textLength="12.5" lengthAdjust="spacingAndGlyphs" xml:space="preserve">1. 8</text>
<text class="ta" x="333.3" y="519.5" textLength="12.5" lengthAdjust="spacingAndGlyphs" xml:space="preserve">2. 0</text>
<text class="tt" x="81.7" y="561" textLength="35.1" lengthAdjust="spacingAndGlyphs">Angle/<tspan style="stroke:none;font-size:10.5px">&#176;</tspan></text>
<text class="tc" x="281.8" y="554.5" textLength="51" lengthAdjust="spacingAndGlyphs">Coefficient</text>
<text class="ty" transform="translate(27 553.9) rotate(-93.25)" textLength="229.1" lengthAdjust="spacingAndGlyphs">Peak longitudinal bending moment at the bottom of pier No.1/KN*m</text>
<text class="cap cp" x="156.5" y="613.4">(</text><text class="cap" x="165.7" y="614.3">c</text><text class="cap cp" x="177.5" y="613.4">)</text></g>
<g class="pd"><path class="gd" d="M399.8 505.8L518.9 463.3M518.9 463.3L653.6 498.9M399 486.5L519 446.5M519 446.5L654.6 480.1M398.3 466.9L519.1 429.5M519.1 429.5L655.6 461M397.5 447.1L519.1 412.4M519.1 412.4L656.6 441.7M396.8 427L519.2 395M519.2 395L657.6 422.1M396 406.6L519.3 377.4M519.3 377.4L658.6 402.3M395.2 385.9L519.4 359.6M519.4 359.6L659.7 382.2M394.4 364.9L519.4 341.6M519.4 341.6L660.7 361.8M409.6 521.4L403.4 342.1M427.2 514.7L422.2 339.1M444.1 508.3L440.2 336.2M460.2 502.1L457.5 333.4M475.8 496.2L474 330.7M490.7 490.6L489.8 328.2M505 485.1L504.9 325.7M532.1 483.6L533.5 325.2M545.8 487.4L548 326.9M559.8 491.4L562.8 328.8M574.2 495.4L578.1 330.7M589 499.6L593.9 332.7M604.3 503.8L610.1 334.7M619.9 508.2L626.8 336.8M636.1 512.8L644 338.9"/>
<path class="gf" d="M409.6 521.4L549.9 572.1M427.2 514.7L566.8 563.1M444.1 508.3L582.8 554.6M460.2 502.1L598.1 546.5M475.8 496.2L612.7 538.7M490.7 490.6L626.6 531.3M505 485.1L639.9 524.2M414.2 529.9L532.1 483.6M428.3 535.1L545.8 487.4M442.9 540.5L559.8 491.4M457.9 546L574.2 495.4M473.5 551.8L589 499.6M489.6 557.7L604.3 503.8M506.2 563.9L619.9 508.2M523.4 570.2L636.1 512.8"/>
<line class="bk" x1="518.3" y1="480.2" x2="519.7" y2="323.3"/>
<polyline class="fb" points="401,524.8 518.3,480.2 653.2,516.8"/>
<polyline class="tp" points="393.5,343.4 519.7,323.3 661.7,341.5"/>
<line class="rv" x1="653.2" y1="516.8" x2="661.7" y2="341.5"/>
<polygon class="sf" points="399.1,472.5 407.8,463.8 416.5,449 425.1,443.4 433.3,426 442.5,426.4 450.2,407.7 458.5,404.8 466.7,391.9 474.3,380.8 482.5,376.1 490,367.4 495.9,359.2 505.2,346.4 512.2,341.1 520.4,339.9 533.3,337 547.1,349.6 554.8,361.2 561.2,376.5 568.8,394.4 575.2,409.7 581.6,422.5 586.8,431.2 600,416.1 606.5,412.2 613.8,405.6 621,395.7 629.5,383.3 642,372.1 653.8,361.6 659.8,360.3 643.3,374.7 639.4,378.7 631.5,394.4 619.7,406.9 609.2,428.6 602.6,435.2 593.4,443 590.8,447 585.5,460.1 579,462.1 575.2,463.5 572.7,467.7 568.8,477.9 563.7,485.6 559.9,492 557.3,497.1 550.9,507.3 542,516.8 525.3,513.7 514.1,511.5 500.3,515.3 486.5,518.3 472.7,514 462.6,507.7 455.1,505.2 442.5,504.7 432.5,497.7 422.4,488.9 409.8,480.1"/>
<clipPath id="clipd"><polygon points="399.1,472.5 407.8,463.8 416.5,449 425.1,443.4 433.3,426 442.5,426.4 450.2,407.7 458.5,404.8 466.7,391.9 474.3,380.8 482.5,376.1 490,367.4 495.9,359.2 505.2,346.4 512.2,341.1 520.4,339.9 533.3,337 547.1,349.6 554.8,361.2 561.2,376.5 568.8,394.4 575.2,409.7 581.6,422.5 586.8,431.2 600,416.1 606.5,412.2 613.8,405.6 621,395.7 629.5,383.3 642,372.1 653.8,361.6 659.8,360.3 643.3,374.7 639.4,378.7 631.5,394.4 619.7,406.9 609.2,428.6 602.6,435.2 593.4,443 590.8,447 585.5,460.1 579,462.1 575.2,463.5 572.7,467.7 568.8,477.9 563.7,485.6 559.9,492 557.3,497.1 550.9,507.3 542,516.8 525.3,513.7 514.1,511.5 500.3,515.3 486.5,518.3 472.7,514 462.6,507.7 455.1,505.2 442.5,504.7 432.5,497.7 422.4,488.9 409.8,480.1"/></clipPath>
<g class="mf" clip-path="url(#clipd)"><path d="M503.9 349.9L517.9 346.9L533.4 336.8L519.4 340.1Z"/><path d="M517.9 346.9L532.3 358.9L547.7 349.8L533.4 336.8Z"/><path d="M487.8 373.1L501.8 371.0L517.9 346.9L503.9 349.9Z"/><path d="M532.3 358.9L546.8 383.7L561.9 377.4L547.7 349.8Z"/><path d="M546.8 383.7L561.5 412.1L576.2 410.5L561.9 377.4Z"/><path d="M501.8 371.0L516.2 382.6L532.3 358.9L517.9 346.9Z"/><path d="M471.2 390.3L485.2 389.7L501.8 371.0L487.8 373.1Z"/><path d="M561.5 412.1L576.7 424.9L591.2 424.7L576.2 410.5Z"/><path d="M516.2 382.6L530.9 405.0L546.8 383.7L532.3 358.9Z"/><path d="M530.9 405.0L545.8 429.0L561.5 412.1L546.8 383.7Z"/><path d="M485.2 389.7L499.7 401.5L516.2 382.6L501.8 371.0Z"/><path d="M454.0 412.9L468.0 413.2L485.2 389.7L471.2 390.3Z"/><path d="M576.7 424.9L593.0 411.1L607.5 409.4L591.2 424.7Z"/><path d="M545.8 429.0L561.1 440.8L576.7 424.9L561.5 412.1Z"/><path d="M499.7 401.5L514.5 422.1L530.9 405.0L516.2 382.6Z"/><path d="M468.0 413.2L482.5 424.3L499.7 401.5L485.2 389.7Z"/><path d="M514.5 422.1L529.5 442.1L545.8 429.0L530.9 405.0Z"/><path d="M436.3 434.4L450.2 435.7L468.0 413.2L454.0 412.9Z"/><path d="M561.1 440.8L577.4 429.4L593.0 411.1L576.7 424.9Z"/><path d="M593.0 411.1L610.3 391.1L624.8 388.1L607.5 409.4Z"/><path d="M482.5 424.3L497.4 442.3L514.5 422.1L499.7 401.5Z"/><path d="M529.5 442.1L545.0 453.5L561.1 440.8L545.8 429.0Z"/><path d="M450.2 435.7L464.7 446.4L482.5 424.3L468.0 413.2Z"/><path d="M417.9 458.2L431.8 460.9L450.2 435.7L436.3 434.4Z"/><path d="M497.4 442.3L512.6 457.4L529.5 442.1L514.5 422.1Z"/><path d="M545.0 453.5L561.3 445.2L577.4 429.4L561.1 440.8Z"/><path d="M464.7 446.4L479.6 461.9L497.4 442.3L482.5 424.3Z"/><path class="n" d="M577.4 429.4L594.6 411.7L610.3 391.1L593.0 411.1Z"/><path d="M610.3 391.1L628.2 373.3L642.7 369.0L624.8 388.1Z"/><path d="M512.6 457.4L528.2 467.6L545.0 453.5L529.5 442.1Z"/><path d="M431.8 460.9L446.3 471.5L464.7 446.4L450.2 435.7Z"/><path d="M398.2 465.9L412.2 471.5L431.8 460.9L417.9 458.2Z"/><path d="M479.6 461.9L494.9 472.3L512.6 457.4L497.4 442.3Z"/><path d="M446.3 471.5L461.2 484.9L479.6 461.9L464.7 446.4Z"/><path d="M528.2 467.6L544.4 461.7L561.3 445.2L545.0 453.5Z"/><path class="n" d="M561.3 445.2L578.3 430.3L594.6 411.7L577.4 429.4Z"/><path d="M628.2 373.3L646.1 374.8L660.3 371.3L642.7 369.0Z"/><path d="M594.6 411.7L612.4 396.4L628.2 373.3L610.3 391.1Z"/><path d="M494.9 472.3L510.6 481.5L528.2 467.6L512.6 457.4Z"/><path d="M412.2 471.5L426.9 483.6L446.3 471.5L431.8 460.9Z"/><path d="M461.2 484.9L476.5 490.7L494.9 472.3L479.6 461.9Z"/><path d="M426.9 483.6L441.9 496.3L461.2 484.9L446.3 471.5Z"/><path d="M544.4 461.7L561.4 448.9L578.3 430.3L561.3 445.2Z"/><path d="M510.6 481.5L526.8 478.2L544.4 461.7L528.2 467.6Z"/><path d="M578.3 430.3L596.1 418.2L612.4 396.4L594.6 411.7Z"/><path d="M612.4 396.4L630.3 397.9L646.1 374.8L628.2 373.3Z"/><path d="M476.5 490.7L492.2 499.2L510.6 481.5L494.9 472.3Z"/><path d="M441.9 496.3L457.1 499.1L476.5 490.7L461.2 484.9Z"/><path d="M526.8 478.2L543.8 467.9L561.4 448.9L544.4 461.7Z"/><path d="M596.1 418.2L614.0 420.3L630.3 397.9L612.4 396.4Z"/><path d="M561.4 448.9L579.1 439.2L596.1 418.2L578.3 430.3Z"/><path d="M492.2 499.2L508.5 499.1L526.8 478.2L510.6 481.5Z"/><path d="M457.1 499.1L473.0 508.5L492.2 499.2L476.5 490.7Z"/><path d="M579.1 439.2L597.2 441.1L614.0 420.3L596.1 418.2Z"/><path d="M508.5 499.1L525.4 491.7L543.8 467.9L526.8 478.2Z"/><path d="M543.8 467.9L561.4 460.9L579.1 439.2L561.4 448.9Z"/><path d="M473.0 508.5L489.3 513.3L508.5 499.1L492.2 499.2Z"/><path d="M561.4 460.9L579.6 462.8L597.2 441.1L579.1 439.2Z"/><path d="M525.4 491.7L542.9 487.9L561.4 460.9L543.8 467.9Z"/><path d="M489.3 513.3L506.2 510.7L525.4 491.7L508.5 499.1Z"/><path d="M542.9 487.9L561.1 490.3L579.6 462.8L561.4 460.9Z"/><path d="M506.2 510.7L523.7 511.9L542.9 487.9L525.4 491.7Z"/><path d="M523.7 511.9L541.9 516.6L561.1 490.3L542.9 487.9Z"/></g>
<polygon class="dk" points="653.8,361.6 659.8,360.3 643.3,374.7 639.4,378.7 641.4,374.7"/>
<polygon class="dk" points="620,406.5 612,420.5 604,430.5 592.1,440.4 593.4,443 602.6,435.2 609.2,428.6 614,418"/>
<line class="ax" x1="401" y1="524.8" x2="393.5" y2="343.4"/>
<polyline class="ax2" points="401,524.8 540.7,577.1 653.2,516.8"/>
<text class="tz" transform="matrix(0.935 -0.355 0.038 0.999 396.3 530)" text-anchor="end" textLength="10" lengthAdjust="spacingAndGlyphs">0.0</text><text class="tz tzb" transform="matrix(0.935 -0.355 0.038 0.999 396.3 530)" text-anchor="end">0</text>
<text class="tz" transform="matrix(0.942 -0.336 0.038 0.999 395.6 511)" text-anchor="end"><tspan textLength="19.3" lengthAdjust="spacingAndGlyphs" xml:space="preserve">5. 0x10</tspan><tspan font-size="6" dy="-4.2">7</tspan></text>
<text class="tz" transform="matrix(0.949 -0.316 0.038 0.999 394.8 491.7)" text-anchor="end"><tspan textLength="19.7" lengthAdjust="spacingAndGlyphs" xml:space="preserve">1. 0x10</tspan><tspan font-size="6" dy="-4.2">8</tspan></text>
<text class="tz" transform="matrix(0.955 -0.296 0.038 0.999 394.1 472.1)" text-anchor="end"><tspan textLength="20" lengthAdjust="spacingAndGlyphs" xml:space="preserve">1. 5x10</tspan><tspan font-size="6" dy="-4.2">8</tspan></text>
<text class="tz" transform="matrix(0.962 -0.275 0.038 0.999 393.3 452.3)" text-anchor="end"><tspan textLength="20.3" lengthAdjust="spacingAndGlyphs" xml:space="preserve">2. 0x10</tspan><tspan font-size="6" dy="-4.2">8</tspan></text>
<text class="tz" transform="matrix(0.968 -0.253 0.038 0.999 392.6 432.2)" text-anchor="end"><tspan textLength="20.7" lengthAdjust="spacingAndGlyphs" xml:space="preserve">2. 5x10</tspan><tspan font-size="6" dy="-4.2">8</tspan></text>
<text class="tz" transform="matrix(0.973 -0.230 0.038 0.999 391.8 411.8)" text-anchor="end"><tspan textLength="21" lengthAdjust="spacingAndGlyphs" xml:space="preserve">3. 0x10</tspan><tspan font-size="6" dy="-4.2">8</tspan></text>
<text class="tz" transform="matrix(0.978 -0.207 0.038 0.999 391 391.1)" text-anchor="end"><tspan textLength="21.3" lengthAdjust="spacingAndGlyphs" xml:space="preserve">3. 5x10</tspan><tspan font-size="6" dy="-4.2">8</tspan></text>
<text class="tz" transform="matrix(0.983 -0.183 0.038 0.999 390.2 370.1)" text-anchor="end"><tspan textLength="21.7" lengthAdjust="spacingAndGlyphs" xml:space="preserve">4. 0x10</tspan><tspan font-size="6" dy="-4.2">8</tspan></text>
<text class="tz" transform="matrix(0.987 -0.159 0.038 0.999 389.4 348.9)" text-anchor="end"><tspan textLength="22" lengthAdjust="spacingAndGlyphs" xml:space="preserve">4. 5x10</tspan><tspan font-size="6" dy="-4.2">8</tspan></text>
<text class="ta" x="402.8" y="535.9" textLength="8.3" lengthAdjust="spacingAndGlyphs">20</text>
<text class="ta" x="416.9" y="540.9" textLength="9.3" lengthAdjust="spacingAndGlyphs">40</text>
<text class="ta" x="431.2" y="547.2" textLength="8.8" lengthAdjust="spacingAndGlyphs">60</text>
<text class="ta" x="445.5" y="553" textLength="9.6" lengthAdjust="spacingAndGlyphs">80</text>
<text class="ta" x="457.6" y="558.5" textLength="13.8" lengthAdjust="spacingAndGlyphs">100</text>
<text class="ta" x="473.2" y="564" textLength="14" lengthAdjust="spacingAndGlyphs">120</text>
<text class="ta" x="489.7" y="571.1" textLength="13.6" lengthAdjust="spacingAndGlyphs">140</text>
<text class="ta" x="505.3" y="576.9" textLength="14.9" lengthAdjust="spacingAndGlyphs">160</text>
<clipPath id="kd"><rect x="519.1" y="561.1" width="40" height="20"/></clipPath>
<text class="ta" x="524.1" y="582.6" textLength="14" lengthAdjust="spacingAndGlyphs" clip-path="url(#kd)">180</text>
<text class="ta" x="554.8" y="578.2" textLength="14" lengthAdjust="spacingAndGlyphs" xml:space="preserve">0. 6</text>
<text class="ta" x="571.4" y="569.5" textLength="14" lengthAdjust="spacingAndGlyphs" xml:space="preserve">0. 8</text>
<text class="ta" x="588" y="560.3" textLength="12.8" lengthAdjust="spacingAndGlyphs" xml:space="preserve">1. 0</text>
<text class="ta" x="603.4" y="552.1" textLength="12.7" lengthAdjust="spacingAndGlyphs" xml:space="preserve">1. 2</text>
<text class="ta" x="617.4" y="544.4" textLength="12.8" lengthAdjust="spacingAndGlyphs" xml:space="preserve">1. 4</text>
<text class="ta" x="631.5" y="536.7" textLength="12" lengthAdjust="spacingAndGlyphs" xml:space="preserve">1. 6</text>
<text class="ta" x="644.3" y="529.6" textLength="12.8" lengthAdjust="spacingAndGlyphs" xml:space="preserve">1. 8</text>
<text class="ta" x="657.8" y="522.7" textLength="12" lengthAdjust="spacingAndGlyphs" xml:space="preserve">2. 0</text>
<text class="tt" x="422.4" y="564.6" textLength="33.9" lengthAdjust="spacingAndGlyphs">Angle/<tspan style="stroke:none;font-size:10.5px">&#176;</tspan></text>
<text class="tc" x="609.2" y="559.3" textLength="47.9" lengthAdjust="spacingAndGlyphs">Coefficient</text>
<text class="ty" transform="translate(369.6 540.9) rotate(-92.85)" textLength="193.3" lengthAdjust="spacingAndGlyphs">Peak transverse moment at the bottom of pier No.1/KN*m</text>
<text class="cap cp" x="467.4" y="613.4">(</text><text class="cap" x="476.1" y="613.8">d</text><text class="cap cp" x="489.2" y="613.4">)</text></g>
<g class="pe"><path class="gd" d="M58.4 811.1L184 769M184 769L325 804.4M57.5 792.1L184 752.4M184 752.4L325.9 785.9M56.7 772.8L184 735.7M184 735.7L326.8 767.1M55.8 753.3L184 718.8M184 718.8L327.8 748.1M55 733.5L184 701.7M184 701.7L328.7 728.8M54.1 713.4L184 684.3M184 684.3L329.7 709.3M53.2 693L184 666.8M184 666.8L330.7 689.5M52.3 672.4L184 649.1M184 649.1L331.7 669.4M68.8 826.5L61.6 649.9M87.4 819.9L81.5 646.8M105.1 813.5L100.5 643.9M122.2 807.4L118.6 641.1M138.6 801.6L136 638.5M154.3 796L152.7 635.9M169.5 790.6L168.7 633.5M197.9 789.1L198.7 632.9M212.2 792.9L213.8 634.7M226.9 796.8L229.3 636.6M242 800.8L245.3 638.5M257.5 805L261.7 640.5M273.4 809.2L278.7 642.5M289.8 813.6L296.1 644.6M306.7 818.1L314.1 646.8"/>
<path class="gf" d="M68.8 826.5L215.6 876.9M87.4 819.9L233.3 868M105.1 813.5L250.3 859.6M122.2 807.4L266.4 851.5M138.6 801.6L281.8 843.8M154.3 796L296.6 836.5M169.5 790.6L310.6 829.4M73.5 834.9L197.9 789.1M88.3 840.1L212.2 792.9M103.6 845.5L226.9 796.8M119.3 851L242 800.8M135.6 856.7L257.5 805M152.4 862.6L273.4 809.2M169.7 868.7L289.8 813.6M187.7 875L306.7 818.1"/>
<line class="bk" x1="184.3" y1="784.9" x2="183.8" y2="631.3"/>
<polyline class="fb" points="59,830.3 184.3,784.9 323.9,823.2"/>
<polyline class="tp" points="51.5,651.4 183.8,631.3 332.8,648.9"/>
<line class="rv" x1="323.9" y1="823.2" x2="332.8" y2="648.9"/>
<polygon class="sf" points="59.4,814.1 76.9,806.4 98.8,795.5 109.6,790 120.9,784.2 136.9,776.2 153,767.4 167.4,757.7 175.4,752.1 183.5,745.7 189.1,737.7 193.8,730 202.5,712.3 211.3,691.3 216.5,677.3 220.9,665 228.8,653.6 244.5,646.6 253.3,640.5 260.3,641.4 267.3,649.3 277,659.8 294.5,663.3 297.1,673.8 300.6,689.5 305,705.3 307.8,721 310.6,732.2 317.6,753.2 326,776.3 317.6,785.4 306.4,796.6 298,803.6 286.8,812 270,823.2 260.5,831.7 243,841.9 225.5,851.4 206.5,863.1 187.5,858 170,852.8 167.1,847.9 153.1,838.6 139.1,830.4 125.1,824.5 111,821 92.4,820.6 72.5,821"/>
<clipPath id="clipe"><polygon points="59.4,814.1 76.9,806.4 98.8,795.5 109.6,790 120.9,784.2 136.9,776.2 153,767.4 167.4,757.7 175.4,752.1 183.5,745.7 189.1,737.7 193.8,730 202.5,712.3 211.3,691.3 216.5,677.3 220.9,665 228.8,653.6 244.5,646.6 253.3,640.5 260.3,641.4 267.3,649.3 277,659.8 294.5,663.3 297.1,673.8 300.6,689.5 305,705.3 307.8,721 310.6,732.2 317.6,753.2 326,776.3 317.6,785.4 306.4,796.6 298,803.6 286.8,812 270,823.2 260.5,831.7 243,841.9 225.5,851.4 206.5,863.1 187.5,858 170,852.8 167.1,847.9 153.1,838.6 139.1,830.4 125.1,824.5 111,821 92.4,820.6 72.5,821"/></clipPath>
<g class="mf" clip-path="url(#clipe)"><path class="n" d="M176.7 751.2L190.9 730.7L198.3 723.3L184.0 745.0Z"/><path class="n" d="M169.3 756.6L183.4 737.9L190.9 730.7L176.7 751.2Z"/><path class="n" d="M161.7 761.9L175.9 744.9L183.4 737.9L169.3 756.6Z"/><path d="M190.9 730.7L205.8 699.8L213.2 690.8L198.3 723.3Z"/><path class="n" d="M154.0 767.2L168.1 751.9L175.9 744.9L161.7 761.9Z"/><path d="M183.4 737.9L198.3 709.1L205.8 699.8L190.9 730.7Z"/><path class="n" d="M146.2 771.6L160.3 758.0L168.1 751.9L154.0 767.2Z"/><path d="M175.9 744.9L190.6 718.3L198.3 709.1L183.4 737.9Z"/><path class="n" d="M138.2 776.0L152.3 764.2L160.3 758.0L146.2 771.6Z"/><path d="M168.1 751.9L182.8 727.3L190.6 718.3L175.9 744.9Z"/><path class="n" d="M205.8 699.8L221.4 671.4L229.0 660.9L213.2 690.8Z"/><path class="n" d="M130.0 780.2L144.1 770.1L152.3 764.2L138.2 776.0Z"/><path d="M160.3 758.0L174.9 735.6L182.8 727.3L168.1 751.9Z"/><path class="n" d="M198.3 709.1L213.8 682.7L221.4 671.4L205.8 699.8Z"/><path class="n" d="M121.7 784.5L135.8 776.2L144.1 770.1L130.0 780.2Z"/><path class="n" d="M190.6 718.3L206.1 693.9L213.8 682.7L198.3 709.1Z"/><path class="n" d="M152.3 764.2L166.9 743.8L174.9 735.6L160.3 758.0Z"/><path d="M221.4 671.4L237.4 666.6L244.9 656.2L229.0 660.9Z"/><path class="n" d="M182.8 727.3L198.2 704.8L206.1 693.9L190.6 718.3Z"/><path class="n" d="M113.2 788.9L127.4 782.6L135.8 776.2L121.7 784.5Z"/><path class="n" d="M144.1 770.1L158.7 751.8L166.9 743.8L152.3 764.2Z"/><path d="M213.8 682.7L229.8 678.5L237.4 666.6L221.4 671.4Z"/><path class="n" d="M174.9 735.6L190.3 715.1L198.2 704.8L182.8 727.3Z"/><path class="n" d="M104.6 793.5L118.7 789.0L127.4 782.6L113.2 788.9Z"/><path class="n" d="M135.8 776.2L150.4 760.2L158.7 751.8L144.1 770.1Z"/><path d="M206.1 693.9L222.0 690.2L229.8 678.5L213.8 682.7Z"/><path d="M237.4 666.6L253.8 666.1L261.3 655.8L244.9 656.2Z"/><path class="n" d="M166.9 743.8L182.2 725.3L190.3 715.1L174.9 735.6Z"/><path d="M95.8 798.0L109.9 795.3L118.7 789.0L104.6 793.5Z"/><path d="M198.2 704.8L214.2 701.6L222.0 690.2L206.1 693.9Z"/><path class="n" d="M127.4 782.6L141.9 768.9L150.4 760.2L135.8 776.2Z"/><path d="M229.8 678.5L246.2 678.5L253.8 666.1L237.4 666.6Z"/><path class="n" d="M158.7 751.8L173.9 735.3L182.2 725.3L166.9 743.8Z"/><path d="M253.8 666.1L270.2 684.5L277.6 675.3L261.3 655.8Z"/><path d="M190.3 715.1L206.2 712.3L214.2 701.6L198.2 704.8Z"/><path d="M222.0 690.2L238.4 690.8L246.2 678.5L229.8 678.5Z"/><path class="n" d="M118.7 789.0L133.3 777.4L141.9 768.9L127.4 782.6Z"/><path d="M86.8 802.6L101.0 801.7L109.9 795.3L95.8 798.0Z"/><path class="n" d="M150.4 760.2L165.6 745.7L173.9 735.3L158.7 751.8Z"/><path d="M246.2 678.5L262.7 696.4L270.2 684.5L253.8 666.1Z"/><path d="M182.2 725.3L198.1 723.0L206.2 712.3L190.3 715.1Z"/><path d="M214.2 701.6L230.6 702.5L238.4 690.8L222.0 690.2Z"/><path d="M270.2 684.5L287.3 693.6L294.6 684.7L277.6 675.3Z"/><path class="n" d="M109.9 795.3L124.5 785.9L133.3 777.4L118.7 789.0Z"/><path d="M77.6 807.2L91.8 808.0L101.0 801.7L86.8 802.6Z"/><path d="M287.3 693.6L302.6 756.5L309.6 751.7L294.6 684.7Z"/><path class="n" d="M141.9 768.9L157.1 756.6L165.6 745.7L150.4 760.2Z"/><path d="M238.4 690.8L255.0 708.1L262.7 696.4L246.2 678.5Z"/><path d="M173.9 735.3L189.8 733.5L198.1 723.0L182.2 725.3Z"/><path d="M206.2 712.3L222.6 713.7L230.6 702.5L214.2 701.6Z"/><path d="M302.6 756.5L320.4 762.1L327.3 757.9L309.6 751.7Z"/><path d="M262.7 696.4L279.7 705.9L287.3 693.6L270.2 684.5Z"/><path class="n" d="M101.0 801.7L115.5 794.4L124.5 785.9L109.9 795.3Z"/><path d="M230.6 702.5L247.2 719.2L255.0 708.1L238.4 690.8Z"/><path d="M279.7 705.9L295.4 765.0L302.6 756.5L287.3 693.6Z"/><path d="M68.2 811.5L82.5 814.3L91.8 808.0L77.6 807.2Z"/><path class="n" d="M133.3 777.4L148.4 767.1L157.1 756.6L141.9 768.9Z"/><path d="M198.1 723.0L214.5 724.8L222.6 713.7L206.2 712.3Z"/><path d="M165.6 745.7L181.5 744.4L189.8 733.5L173.9 735.3Z"/><path d="M255.0 708.1L272.1 718.1L279.7 705.9L262.7 696.4Z"/><path d="M295.4 765.0L313.2 770.8L320.4 762.1L302.6 756.5Z"/><path d="M222.6 713.7L239.2 729.7L247.2 719.2L230.6 702.5Z"/><path d="M91.8 808.0L106.4 803.1L115.5 794.4L101.0 801.7Z"/><path d="M272.1 718.1L288.0 773.4L295.4 765.0L279.7 705.9Z"/><path d="M124.5 785.9L139.6 777.6L148.4 767.1L133.3 777.4Z"/><path d="M189.8 733.5L206.2 735.7L214.5 724.8L198.1 723.0Z"/><path d="M157.1 756.6L172.9 756.0L181.5 744.4L165.6 745.7Z"/><path d="M58.5 814.8L72.9 819.8L82.5 814.3L68.2 811.5Z"/><path d="M247.2 719.2L264.3 729.4L272.1 718.1L255.0 708.1Z"/><path d="M288.0 773.4L305.9 779.3L313.2 770.8L295.4 765.0Z"/><path d="M214.5 724.8L231.2 740.2L239.2 729.7L222.6 713.7Z"/><path d="M264.3 729.4L280.5 780.9L288.0 773.4L272.1 718.1Z"/><path d="M82.5 814.3L97.1 811.7L106.4 803.1L91.8 808.0Z"/><path d="M115.5 794.4L130.7 788.1L139.6 777.6L124.5 785.9Z"/><path d="M181.5 744.4L197.9 747.2L206.2 735.7L189.8 733.5Z"/><path d="M148.4 767.1L164.3 766.9L172.9 756.0L157.1 756.6Z"/><path d="M239.2 729.7L256.4 740.3L264.3 729.4L247.2 719.2Z"/><path d="M280.5 780.9L298.5 786.6L305.9 779.3L288.0 773.4Z"/><path d="M206.2 735.7L223.0 750.4L231.2 740.2L214.5 724.8Z"/><path d="M256.4 740.3L272.9 787.9L280.5 780.9L264.3 729.4Z"/><path d="M106.4 803.1L121.6 798.8L130.7 788.1L115.5 794.4Z"/><path d="M172.9 756.0L189.4 759.4L197.9 747.2L181.5 744.4Z"/><path d="M72.9 819.8L87.6 819.6L97.1 811.7L82.5 814.3Z"/><path d="M139.6 777.6L155.5 777.8L164.3 766.9L148.4 767.1Z"/><path d="M231.2 740.2L248.4 751.1L256.4 740.3L239.2 729.7Z"/><path d="M197.9 747.2L214.7 761.3L223.0 750.4L206.2 735.7Z"/><path d="M272.9 787.9L291.0 793.6L298.5 786.6L280.5 780.9Z"/><path d="M164.3 766.9L180.7 770.6L189.4 759.4L172.9 756.0Z"/><path d="M248.4 751.1L265.2 794.8L272.9 787.9L256.4 740.3Z"/><path d="M97.1 811.7L112.3 809.6L121.6 798.8L106.4 803.1Z"/><path d="M130.7 788.1L146.5 788.7L155.5 777.8L139.6 777.6Z"/><path d="M223.0 750.4L240.3 761.7L248.4 751.1L231.2 740.2Z"/><path d="M189.4 759.4L206.2 773.0L214.7 761.3L197.9 747.2Z"/><path d="M265.2 794.8L283.3 800.4L291.0 793.6L272.9 787.9Z"/><path d="M155.5 777.8L171.9 781.9L180.7 770.6L164.3 766.9Z"/><path d="M240.3 761.7L257.3 801.4L265.2 794.8L248.4 751.1Z"/><path d="M121.6 798.8L137.4 799.8L146.5 788.7L130.7 788.1Z"/><path d="M87.6 819.6L102.8 819.9L112.3 809.6L97.1 811.7Z"/><path d="M214.7 761.3L232.0 773.1L240.3 761.7L223.0 750.4Z"/><path d="M180.7 770.6L197.6 783.5L206.2 773.0L189.4 759.4Z"/><path d="M146.5 788.7L162.9 793.2L171.9 781.9L155.5 777.8Z"/><path d="M112.3 809.6L128.1 811.2L137.4 799.8L121.6 798.8Z"/><path d="M206.2 773.0L223.6 785.2L232.0 773.1L214.7 761.3Z"/><path d="M257.3 801.4L275.5 807.0L283.3 800.4L265.2 794.8Z"/><path d="M232.0 773.1L249.2 808.8L257.3 801.4L240.3 761.7Z"/><path d="M171.9 781.9L188.8 794.0L197.6 783.5L180.7 770.6Z"/><path d="M137.4 799.8L153.8 804.7L162.9 793.2L146.5 788.7Z"/><path d="M102.8 819.9L118.6 822.1L128.1 811.2L112.3 809.6Z"/><path d="M197.6 783.5L215.0 796.0L223.6 785.2L206.2 773.0Z"/><path d="M223.6 785.2L241.0 817.0L249.2 808.8L232.0 773.1Z"/><path d="M249.2 808.8L267.5 814.4L275.5 807.0L257.3 801.4Z"/><path d="M162.9 793.2L179.9 804.5L188.8 794.0L171.9 781.9Z"/><path d="M128.1 811.2L144.5 816.5L153.8 804.7L137.4 799.8Z"/><path d="M188.8 794.0L206.3 806.8L215.0 796.0L197.6 783.5Z"/><path d="M215.0 796.0L232.6 823.6L241.0 817.0L223.6 785.2Z"/><path d="M241.0 817.0L259.3 822.7L267.5 814.4L249.2 808.8Z"/><path d="M153.8 804.7L170.8 815.2L179.9 804.5L162.9 793.2Z"/><path d="M118.6 822.1L135.1 828.1L144.5 816.5L128.1 811.2Z"/><path d="M179.9 804.5L197.4 817.5L206.3 806.8L188.8 794.0Z"/><path d="M206.3 806.8L224.0 830.1L232.6 823.6L215.0 796.0Z"/><path d="M232.6 823.6L251.0 829.2L259.3 822.7L241.0 817.0Z"/><path d="M144.5 816.5L161.5 826.4L170.8 815.2L153.8 804.7Z"/><path d="M170.8 815.2L188.3 828.6L197.4 817.5L179.9 804.5Z"/><path d="M197.4 817.5L215.2 836.5L224.0 830.1L206.3 806.8Z"/><path d="M135.1 828.1L152.1 837.4L161.5 826.4L144.5 816.5Z"/><path d="M224.0 830.1L242.5 835.6L251.0 829.2L232.6 823.6Z"/><path d="M161.5 826.4L179.1 840.2L188.3 828.6L170.8 815.2Z"/><path d="M188.3 828.6L206.3 843.2L215.2 836.5L197.4 817.5Z"/><path d="M215.2 836.5L233.8 841.8L242.5 835.6L224.0 830.1Z"/><path d="M152.1 837.4L169.7 851.8L179.1 840.2L161.5 826.4Z"/><path d="M179.1 840.2L197.1 850.5L206.3 843.2L188.3 828.6Z"/><path d="M206.3 843.2L224.9 848.3L233.8 841.8L215.2 836.5Z"/><path d="M169.7 851.8L187.7 857.8L197.1 850.5L179.1 840.2Z"/><path d="M197.1 850.5L215.8 855.6L224.9 848.3L206.3 843.2Z"/><path d="M187.7 857.8L206.5 863.0L215.8 855.6L197.1 850.5Z"/></g>
<line class="ax" x1="59" y1="830.3" x2="51.5" y2="651.4"/>
<polyline class="ax2" points="59,830.3 206.4,881.1 323.9,823.2"/>
<text class="tz" transform="matrix(0.942 -0.336 0.044 0.999 55 835.1)" text-anchor="end" textLength="10" lengthAdjust="spacingAndGlyphs">0.0</text><text class="tz tzb" transform="matrix(0.942 -0.336 0.044 0.999 55 835.1)" text-anchor="end">0</text>
<text class="tz" transform="matrix(0.948 -0.318 0.044 0.999 54.2 816.3)" text-anchor="end"><tspan textLength="17.3" lengthAdjust="spacingAndGlyphs" xml:space="preserve">1. 0x10</tspan><tspan font-size="6" dy="-4.2" textLength="5" lengthAdjust="spacingAndGlyphs">&#8722;4</tspan></text>
<text class="tz" transform="matrix(0.954 -0.299 0.044 0.999 53.3 797.3)" text-anchor="end"><tspan textLength="17.7" lengthAdjust="spacingAndGlyphs" xml:space="preserve">2. 0x10</tspan><tspan font-size="6" dy="-4.2" textLength="5" lengthAdjust="spacingAndGlyphs">&#8722;4</tspan></text>
<text class="tz" transform="matrix(0.960 -0.280 0.044 0.999 52.5 778)" text-anchor="end"><tspan textLength="18" lengthAdjust="spacingAndGlyphs" xml:space="preserve">3. 0x10</tspan><tspan font-size="6" dy="-4.2" textLength="5" lengthAdjust="spacingAndGlyphs">&#8722;4</tspan></text>
<text class="tz" transform="matrix(0.966 -0.260 0.044 0.999 51.6 758.5)" text-anchor="end"><tspan textLength="18.3" lengthAdjust="spacingAndGlyphs" xml:space="preserve">4. 0x10</tspan><tspan font-size="6" dy="-4.2" textLength="5" lengthAdjust="spacingAndGlyphs">&#8722;4</tspan></text>
<text class="tz" transform="matrix(0.971 -0.239 0.044 0.999 50.8 738.7)" text-anchor="end"><tspan textLength="18.7" lengthAdjust="spacingAndGlyphs" xml:space="preserve">5. 0x10</tspan><tspan font-size="6" dy="-4.2" textLength="5" lengthAdjust="spacingAndGlyphs">&#8722;4</tspan></text>
<text class="tz" transform="matrix(0.976 -0.218 0.044 0.999 49.9 718.6)" text-anchor="end"><tspan textLength="19" lengthAdjust="spacingAndGlyphs" xml:space="preserve">6. 0x10</tspan><tspan font-size="6" dy="-4.2" textLength="5" lengthAdjust="spacingAndGlyphs">&#8722;4</tspan></text>
<text class="tz" transform="matrix(0.981 -0.196 0.044 0.999 49 698.2)" text-anchor="end"><tspan textLength="19.3" lengthAdjust="spacingAndGlyphs" xml:space="preserve">7. 0x10</tspan><tspan font-size="6" dy="-4.2" textLength="5" lengthAdjust="spacingAndGlyphs">&#8722;4</tspan></text>
<text class="tz" transform="matrix(0.985 -0.174 0.044 0.999 48.1 677.6)" text-anchor="end"><tspan textLength="19.7" lengthAdjust="spacingAndGlyphs" xml:space="preserve">8. 0x10</tspan><tspan font-size="6" dy="-4.2" textLength="5" lengthAdjust="spacingAndGlyphs">&#8722;4</tspan></text>
<text class="tz" transform="matrix(0.988 -0.151 0.044 0.999 47.2 656.6)" text-anchor="end"><tspan textLength="20" lengthAdjust="spacingAndGlyphs" xml:space="preserve">9. 0x10</tspan><tspan font-size="6" dy="-4.2" textLength="5" lengthAdjust="spacingAndGlyphs">&#8722;4</tspan></text>
<text class="ta" x="60.8" y="841.4" textLength="9" lengthAdjust="spacingAndGlyphs">20</text>
<text class="ta" x="75.4" y="846.4" textLength="9.5" lengthAdjust="spacingAndGlyphs">40</text>
<text class="ta" x="90.5" y="852.2" textLength="9.5" lengthAdjust="spacingAndGlyphs">60</text>
<text class="ta" x="106" y="857.2" textLength="10.1" lengthAdjust="spacingAndGlyphs">80</text>
<text class="ta" x="118.1" y="864" textLength="14.6" lengthAdjust="spacingAndGlyphs">100</text>
<text class="ta" x="135.2" y="869.7" textLength="14.3" lengthAdjust="spacingAndGlyphs">120</text>
<text class="ta" x="152" y="875.5" textLength="15.1" lengthAdjust="spacingAndGlyphs">140</text>
<text class="ta" x="170" y="881.6" textLength="13.8" lengthAdjust="spacingAndGlyphs">160</text>
<text class="ta" x="188.8" y="888.1" textLength="14.4" lengthAdjust="spacingAndGlyphs">180</text>
<text class="ta" x="220.3" y="883.1" textLength="14.5" lengthAdjust="spacingAndGlyphs" xml:space="preserve">0. 6</text>
<text class="ta" x="238.3" y="874.3" textLength="14.1" lengthAdjust="spacingAndGlyphs" xml:space="preserve">0. 8</text>
<text class="ta" x="255.4" y="866" textLength="13.8" lengthAdjust="spacingAndGlyphs" xml:space="preserve">1. 0</text>
<text class="ta" x="271" y="857.4" textLength="13.3" lengthAdjust="spacingAndGlyphs" xml:space="preserve">1. 2</text>
<text class="ta" x="286.8" y="849.9" textLength="13.4" lengthAdjust="spacingAndGlyphs" xml:space="preserve">1. 4</text>
<text class="ta" x="301.2" y="842.4" textLength="13.3" lengthAdjust="spacingAndGlyphs" xml:space="preserve">1. 6</text>
<text class="ta" x="315.2" y="834.8" textLength="12.6" lengthAdjust="spacingAndGlyphs" xml:space="preserve">1. 8</text>
<text class="ta" x="328.3" y="828.3" textLength="12.6" lengthAdjust="spacingAndGlyphs" xml:space="preserve">2. 0</text>
<text class="tt" x="81.7" y="869.6" textLength="35.1" lengthAdjust="spacingAndGlyphs">Angle/<tspan style="stroke:none;font-size:10.5px">&#176;</tspan></text>
<text class="tc" x="277.5" y="864" textLength="50.8" lengthAdjust="spacingAndGlyphs">Coefficient</text>
<text class="ty" transform="translate(25 847.3) rotate(-93.88)" textLength="192.3" lengthAdjust="spacingAndGlyphs">Peak longitudinal curvature at the bottom of pier No.1/m<tspan dy="-3" font-size="5.5">-1</tspan></text>
<text class="cap cp" x="156.9" y="925.2">(</text><text class="cap" x="165.7" y="926.5">e</text><text class="cap cp" x="177.5" y="925.2">)</text></g>
<g class="pf"><path class="gd" d="M401.4 797.5L527 757.3M527 757.3L667.7 791.2M399.7 762.4L526.9 726.9M526.9 726.9L669.2 757M398 726.5L526.8 695.7M526.8 695.7L670.8 721.9M396.2 689.7L526.7 663.9M526.7 663.9L672.5 686M412.5 828.3L404.6 650.4M430.9 821.7L424.4 647.3M448.6 815.3L443.2 644.4M465.6 809.2L461.3 641.6M481.9 803.4L478.6 638.9M497.5 797.8L495.2 636.3M512.6 792.4L511.2 633.8M540.9 790.9L541.1 633.2M555.1 794.7L556.1 635M569.7 798.6L571.5 636.9M584.6 802.7L587.4 638.8M600 806.8L603.7 640.7M615.9 811.1L620.5 642.7M632.1 815.4L637.9 644.8M648.9 820L655.7 647"/>
<path class="gf" d="M412.5 828.3L557.7 878.6M430.9 821.7L575.4 869.8M448.6 815.3L592.3 861.4M465.6 809.2L608.5 853.3M481.9 803.4L623.9 845.7M497.5 797.8L638.6 838.3M512.6 792.4L652.7 831.3M417.2 836.7L540.9 790.9M431.8 841.9L555.1 794.7M446.9 847.2L569.7 798.6M462.4 852.7L584.6 802.7M478.5 858.4L600 806.8M495.1 864.3L615.9 811.1M512.3 870.4L632.1 815.4M530.1 876.7L648.9 820"/>
<line class="bk" x1="528" y1="787" x2="525.9" y2="631.5"/>
<polyline class="fb" points="402.3,831.6 528,787 665.5,825"/>
<polyline class="tp" points="394.8,652.2 525.9,631.5 674.5,648.9"/>
<line class="rv" x1="665.5" y1="825" x2="674.5" y2="648.9"/>
<polygon class="sf" points="402.3,802.7 414.9,795.1 422.4,787.6 431.2,780 437.5,772.5 438.7,770.8 445,770.8 455.1,756.9 462.6,753.2 472.7,739.3 480.2,734.3 484.4,730 495.7,715.8 504.5,701.4 511.7,690.1 518.2,681.3 525.4,669.3 539.8,670.9 555.1,667.3 562.3,678.9 569.5,691.4 575.9,686.9 585.4,681.9 589.3,694.2 602.1,680.1 613.6,698 630.2,687 654.5,672.4 671.9,689 664.3,701.1 656.8,715.4 650.8,725.2 641.7,744.8 633.5,756.8 625.2,767.3 617.6,774.9 611.6,788.4 601.8,795.2 595.1,809.5 584.5,812.5 570.1,831.4 561.2,841.6 548.4,851.8 525.3,845.4 510,842.9 497.8,843.4 485.2,840.4 472.7,835.3 461.3,831.6 447.5,827.8 432.5,819 417.4,810.2"/>
<clipPath id="clipf"><polygon points="402.3,802.7 414.9,795.1 422.4,787.6 431.2,780 437.5,772.5 438.7,770.8 445,770.8 455.1,756.9 462.6,753.2 472.7,739.3 480.2,734.3 484.4,730 495.7,715.8 504.5,701.4 511.7,690.1 518.2,681.3 525.4,669.3 539.8,670.9 555.1,667.3 562.3,678.9 569.5,691.4 575.9,686.9 585.4,681.9 589.3,694.2 602.1,680.1 613.6,698 630.2,687 654.5,672.4 671.9,689 664.3,701.1 656.8,715.4 650.8,725.2 641.7,744.8 633.5,756.8 625.2,767.3 617.6,774.9 611.6,788.4 601.8,795.2 595.1,809.5 584.5,812.5 570.1,831.4 561.2,841.6 548.4,851.8 525.3,845.4 510,842.9 497.8,843.4 485.2,840.4 472.7,835.3 461.3,831.6 447.5,827.8 432.5,819 417.4,810.2"/></clipPath>
<g class="mf" clip-path="url(#clipf)"><path d="M519.2 679.8L533.6 681.2L541.1 671.8L526.7 669.6Z"/><path d="M511.7 690.4L526.1 692.3L533.6 681.2L519.2 679.8Z"/><path d="M504.1 702.5L518.4 704.5L526.1 692.3L511.7 690.4Z"/><path d="M533.6 681.2L548.4 680.0L555.9 671.0L541.1 671.8Z"/><path d="M496.4 715.3L510.7 717.7L518.4 704.5L504.1 702.5Z"/><path d="M526.1 692.3L540.9 691.9L548.4 680.0L533.6 681.2Z"/><path d="M548.4 680.0L563.5 701.1L570.9 693.8L555.9 671.0Z"/><path d="M488.5 725.6L502.8 728.2L510.7 717.7L496.4 715.3Z"/><path d="M518.4 704.5L533.2 704.8L540.9 691.9L526.1 692.3Z"/><path d="M540.9 691.9L556.0 712.3L563.5 701.1L548.4 680.0Z"/><path d="M480.5 734.9L494.8 737.6L502.8 728.2L488.5 725.6Z"/><path d="M510.7 717.7L525.4 718.9L533.2 704.8L518.4 704.5Z"/><path d="M563.5 701.1L579.2 697.1L586.5 690.3L570.9 693.8Z"/><path d="M533.2 704.8L548.4 724.2L556.0 712.3L540.9 691.9Z"/><path d="M502.8 728.2L517.6 730.0L525.4 718.9L510.7 717.7Z"/><path d="M472.3 740.9L486.7 743.9L494.8 737.6L480.5 734.9Z"/><path d="M556.0 712.3L571.6 709.1L579.2 697.1L563.5 701.1Z"/><path d="M525.4 718.9L540.6 737.7L548.4 724.2L533.2 704.8Z"/><path d="M494.8 737.6L509.6 740.0L517.6 730.0L502.8 728.2Z"/><path d="M464.1 752.3L478.4 755.7L486.7 743.9L472.3 740.9Z"/><path d="M548.4 724.2L564.0 721.5L571.6 709.1L556.0 712.3Z"/><path d="M517.6 730.0L532.8 747.9L540.6 737.7L525.4 718.9Z"/><path d="M579.2 697.1L595.4 693.5L602.7 687.2L586.5 690.3Z"/><path d="M486.7 743.9L501.4 747.0L509.6 740.0L494.8 737.6Z"/><path d="M455.6 757.9L470.0 761.4L478.4 755.7L464.1 752.3Z"/><path d="M540.6 737.7L556.2 735.9L564.0 721.5L548.4 724.2Z"/><path d="M509.6 740.0L524.8 756.9L532.8 747.9L517.6 730.0Z"/><path d="M571.6 709.1L587.8 706.3L595.4 693.5L579.2 697.1Z"/><path d="M478.4 755.7L493.2 759.7L501.4 747.0L486.7 743.9Z"/><path d="M532.8 747.9L548.4 746.6L556.2 735.9L540.6 737.7Z"/><path d="M447.2 769.3L461.5 773.1L470.0 761.4L455.6 757.9Z"/><path d="M595.4 693.5L611.7 706.2L618.9 701.5L602.7 687.2Z"/><path d="M564.0 721.5L580.1 719.3L587.8 706.3L571.6 709.1Z"/><path d="M501.4 747.0L516.7 763.2L524.8 756.9L509.6 740.0Z"/><path d="M470.0 761.4L484.7 765.9L493.2 759.7L478.4 755.7Z"/><path d="M524.8 756.9L540.4 756.1L548.4 746.6L532.8 747.9Z"/><path d="M438.3 773.0L452.6 776.7L461.5 773.1L447.2 769.3Z"/><path d="M556.2 735.9L572.3 734.6L580.1 719.3L564.0 721.5Z"/><path d="M587.8 706.3L604.2 718.7L611.7 706.2L595.4 693.5Z"/><path d="M493.2 759.7L508.5 775.3L516.7 763.2L501.4 747.0Z"/><path d="M461.5 773.1L476.3 778.5L484.7 765.9L470.0 761.4Z"/><path d="M548.4 746.6L564.5 745.9L572.3 734.6L556.2 735.9Z"/><path d="M516.7 763.2L532.3 763.0L540.4 756.1L524.8 756.9Z"/><path d="M580.1 719.3L596.5 731.1L604.2 718.7L587.8 706.3Z"/><path class="n" d="M611.7 706.2L629.1 695.9L636.3 691.7L618.9 701.5Z"/><path d="M429.5 783.3L443.8 787.2L452.6 776.7L438.3 773.0Z"/><path d="M484.7 765.9L500.1 780.4L508.5 775.3L493.2 759.7Z"/><path d="M572.3 734.6L588.8 746.1L596.5 731.1L580.1 719.3Z"/><path d="M452.6 776.7L467.4 782.5L476.3 778.5L461.5 773.1Z"/><path d="M540.4 756.1L556.5 755.9L564.5 745.9L548.4 746.6Z"/><path d="M508.5 775.3L524.1 775.9L532.3 763.0L516.7 763.2Z"/><path d="M604.2 718.7L621.6 709.4L629.1 695.9L611.7 706.2Z"/><path d="M420.5 791.4L434.8 795.7L443.8 787.2L429.5 783.3Z"/><path d="M476.3 778.5L491.6 792.3L500.1 780.4L484.7 765.9Z"/><path d="M564.5 745.9L580.9 756.8L588.8 746.1L572.3 734.6Z"/><path d="M596.5 731.1L613.9 722.4L621.6 709.4L604.2 718.7Z"/><path d="M532.3 763.0L548.4 763.5L556.5 755.9L540.4 756.1Z"/><path d="M443.8 787.2L458.6 793.6L467.4 782.5L452.6 776.7Z"/><path d="M500.1 780.4L515.7 781.4L524.1 775.9L508.5 775.3Z"/><path d="M411.2 799.4L425.5 803.8L434.8 795.7L420.5 791.4Z"/><path class="n" d="M629.1 695.9L647.2 686.3L654.3 682.5L636.3 691.7Z"/><path d="M467.4 782.5L482.8 795.1L491.6 792.3L476.3 778.5Z"/><path d="M556.5 755.9L573.0 766.2L580.9 756.8L564.5 745.9Z"/><path d="M588.8 746.1L606.1 738.5L613.9 722.4L596.5 731.1Z"/><path d="M524.1 775.9L540.2 777.3L548.4 763.5L532.3 763.0Z"/><path d="M434.8 795.7L449.6 802.9L458.6 793.6L443.8 787.2Z"/><path d="M491.6 792.3L507.2 794.2L515.7 781.4L500.1 780.4Z"/><path d="M621.6 709.4L639.6 701.0L647.2 686.3L629.1 695.9Z"/><path d="M401.6 802.7L415.9 807.5L425.5 803.8L411.2 799.4Z"/><path d="M580.9 756.8L598.2 749.9L606.1 738.5L588.8 746.1Z"/><path d="M458.6 793.6L474.0 805.1L482.8 795.1L467.4 782.5Z"/><path d="M548.4 763.5L565.0 773.4L573.0 766.2L556.5 755.9Z"/><path d="M515.7 781.4L531.8 783.3L540.2 777.3L524.1 775.9Z"/><path d="M425.5 803.8L440.4 811.7L449.6 802.9L434.8 795.7Z"/><path d="M482.8 795.1L498.4 797.2L507.2 794.2L491.6 792.3Z"/><path d="M613.9 722.4L631.9 714.8L639.6 701.0L621.6 709.4Z"/><path d="M647.2 686.3L665.5 689.2L672.5 686.5L654.3 682.5Z"/><path d="M573.0 766.2L590.3 759.9L598.2 749.9L580.9 756.8Z"/><path d="M449.6 802.9L464.9 813.7L474.0 805.1L458.6 793.6Z"/><path d="M540.2 777.3L556.8 786.9L565.0 773.4L548.4 763.5Z"/><path d="M507.2 794.2L523.3 796.9L531.8 783.3L515.7 781.4Z"/><path d="M606.1 738.5L624.0 732.1L631.9 714.8L613.9 722.4Z"/><path d="M415.9 807.5L430.8 816.4L440.4 811.7L425.5 803.8Z"/><path d="M474.0 805.1L489.6 807.8L498.4 797.2L482.8 795.1Z"/><path d="M639.6 701.0L657.9 704.2L665.5 689.2L647.2 686.3Z"/><path d="M565.0 773.4L582.3 767.8L590.3 759.9L573.0 766.2Z"/><path d="M440.4 811.7L455.7 821.6L464.9 813.7L449.6 802.9Z"/><path d="M531.8 783.3L548.4 792.1L556.8 786.9L540.2 777.3Z"/><path d="M598.2 749.9L616.1 744.3L624.0 732.1L606.1 738.5Z"/><path d="M498.4 797.2L514.6 800.2L523.3 796.9L507.2 794.2Z"/><path d="M631.9 714.8L650.2 718.0L657.9 704.2L639.6 701.0Z"/><path d="M464.9 813.7L480.6 817.2L489.6 807.8L474.0 805.1Z"/><path d="M556.8 786.9L574.0 782.3L582.3 767.8L565.0 773.4Z"/><path d="M523.3 796.9L539.9 805.3L548.4 792.1L531.8 783.3Z"/><path d="M590.3 759.9L608.2 755.1L616.1 744.3L598.2 749.9Z"/><path d="M430.8 816.4L446.2 825.6L455.7 821.6L440.4 811.7Z"/><path d="M624.0 732.1L642.3 735.8L650.2 718.0L631.9 714.8Z"/><path d="M489.6 807.8L505.7 811.4L514.6 800.2L498.4 797.2Z"/><path d="M455.7 821.6L471.3 825.6L480.6 817.2L464.9 813.7Z"/><path d="M548.4 792.1L565.7 788.0L574.0 782.3L556.8 786.9Z"/><path d="M582.3 767.8L600.2 764.0L608.2 755.1L590.3 759.9Z"/><path d="M616.1 744.3L634.4 748.1L642.3 735.8L624.0 732.1Z"/><path d="M514.6 800.2L531.3 807.7L539.9 805.3L523.3 796.9Z"/><path d="M480.6 817.2L496.7 821.6L505.7 811.4L489.6 807.8Z"/><path d="M446.2 825.6L461.8 830.5L471.3 825.6L455.7 821.6Z"/><path d="M539.9 805.3L557.1 802.3L565.7 788.0L548.4 792.1Z"/><path d="M574.0 782.3L591.9 779.7L600.2 764.0L582.3 767.8Z"/><path d="M608.2 755.1L626.5 758.9L634.4 748.1L616.1 744.3Z"/><path d="M505.7 811.4L522.4 818.2L531.3 807.7L514.6 800.2Z"/><path d="M471.3 825.6L487.5 830.6L496.7 821.6L480.6 817.2Z"/><path d="M565.7 788.0L583.6 786.0L591.9 779.7L574.0 782.3Z"/><path class="n" d="M531.3 807.7L548.5 805.0L557.1 802.3L539.9 805.3Z"/><path d="M600.2 764.0L618.5 768.0L626.5 758.9L608.2 755.1Z"/><path d="M496.7 821.6L513.4 828.0L522.4 818.2L505.7 811.4Z"/><path d="M461.8 830.5L478.1 836.4L487.5 830.6L471.3 825.6Z"/><path d="M591.9 779.7L610.2 784.0L618.5 768.0L600.2 764.0Z"/><path d="M557.1 802.3L575.0 801.4L583.6 786.0L565.7 788.0Z"/><path d="M522.4 818.2L539.7 816.2L548.5 805.0L531.3 807.7Z"/><path d="M487.5 830.6L504.2 836.4L513.4 828.0L496.7 821.6Z"/><path d="M583.6 786.0L602.0 790.3L610.2 784.0L591.9 779.7Z"/><path d="M548.5 805.0L566.4 804.7L575.0 801.4L557.1 802.3Z"/><path d="M513.4 828.0L530.7 826.9L539.7 816.2L522.4 818.2Z"/><path d="M478.1 836.4L494.8 841.9L504.2 836.4L487.5 830.6Z"/><path d="M575.0 801.4L593.4 806.0L602.0 790.3L583.6 786.0Z"/><path d="M539.7 816.2L557.6 816.7L566.4 804.7L548.5 805.0Z"/><path d="M504.2 836.4L521.5 836.1L530.7 826.9L513.4 828.0Z"/><path d="M566.4 804.7L584.9 809.1L593.4 806.0L575.0 801.4Z"/><path d="M530.7 826.9L548.6 828.6L557.6 816.7L539.7 816.2Z"/><path d="M494.8 841.9L512.1 842.6L521.5 836.1L504.2 836.4Z"/><path d="M557.6 816.7L576.1 821.0L584.9 809.1L566.4 804.7Z"/><path d="M521.5 836.1L539.4 838.6L548.6 828.6L530.7 826.9Z"/><path d="M548.6 828.6L567.1 833.3L576.1 821.0L557.6 816.7Z"/><path d="M512.1 842.6L530.0 846.4L539.4 838.6L521.5 836.1Z"/><path d="M539.4 838.6L558.0 843.4L567.1 833.3L548.6 828.6Z"/><path d="M530.0 846.4L548.6 851.5L558.0 843.4L539.4 838.6Z"/></g>
<line class="ax" x1="402.3" y1="831.6" x2="394.8" y2="652.2"/>
<polyline class="ax2" points="402.3,831.6 548.9,883 665.5,825"/>
<text class="tz" transform="matrix(0.941 -0.338 0.048 0.999 398.8 836.9)" text-anchor="end" textLength="10" lengthAdjust="spacingAndGlyphs">0.0</text><text class="tz tzb" transform="matrix(0.941 -0.338 0.048 0.999 398.8 836.9)" text-anchor="end">0</text>
<text class="tz" transform="matrix(0.953 -0.304 0.048 0.999 397.2 802.7)" text-anchor="end"><tspan textLength="17.6" lengthAdjust="spacingAndGlyphs" xml:space="preserve">5. 0x10</tspan><tspan font-size="6" dy="-4.2" textLength="5" lengthAdjust="spacingAndGlyphs">&#8722;5</tspan></text>
<text class="tz" transform="matrix(0.963 -0.269 0.048 0.999 395.5 767.6)" text-anchor="end"><tspan textLength="18.2" lengthAdjust="spacingAndGlyphs" xml:space="preserve">1. 0x10</tspan><tspan font-size="6" dy="-4.2" textLength="5" lengthAdjust="spacingAndGlyphs">&#8722;4</tspan></text>
<text class="tz" transform="matrix(0.973 -0.233 0.048 0.999 393.8 731.7)" text-anchor="end"><tspan textLength="18.8" lengthAdjust="spacingAndGlyphs" xml:space="preserve">1. 5x10</tspan><tspan font-size="6" dy="-4.2" textLength="5" lengthAdjust="spacingAndGlyphs">&#8722;4</tspan></text>
<text class="tz" transform="matrix(0.981 -0.194 0.048 0.999 392 694.9)" text-anchor="end"><tspan textLength="19.4" lengthAdjust="spacingAndGlyphs" xml:space="preserve">2. 0x10</tspan><tspan font-size="6" dy="-4.2" textLength="5" lengthAdjust="spacingAndGlyphs">&#8722;4</tspan></text>
<text class="tz" transform="matrix(0.988 -0.153 0.048 0.999 390.2 657.2)" text-anchor="end"><tspan textLength="20" lengthAdjust="spacingAndGlyphs" xml:space="preserve">2. 5x10</tspan><tspan font-size="6" dy="-4.2" textLength="5" lengthAdjust="spacingAndGlyphs">&#8722;4</tspan></text>
<text class="ta" x="403.6" y="843.4" textLength="10" lengthAdjust="spacingAndGlyphs">20</text>
<text class="ta" x="418.6" y="848.4" textLength="9.6" lengthAdjust="spacingAndGlyphs">40</text>
<text class="ta" x="433.7" y="854.7" textLength="9.6" lengthAdjust="spacingAndGlyphs">60</text>
<text class="ta" x="449.5" y="859.7" textLength="9.3" lengthAdjust="spacingAndGlyphs">80</text>
<text class="ta" x="461.3" y="865.5" textLength="13.9" lengthAdjust="spacingAndGlyphs">100</text>
<text class="ta" x="477.7" y="871.5" textLength="14.6" lengthAdjust="spacingAndGlyphs">120</text>
<text class="ta" x="494" y="877.3" textLength="15.1" lengthAdjust="spacingAndGlyphs">140</text>
<text class="ta" x="512.6" y="884.3" textLength="14" lengthAdjust="spacingAndGlyphs">160</text>
<text class="ta" x="530.5" y="890.7" textLength="14.8" lengthAdjust="spacingAndGlyphs">180</text>
<text class="ta" x="562.4" y="885.1" textLength="14.6" lengthAdjust="spacingAndGlyphs" xml:space="preserve">0. 6</text>
<text class="ta" x="580.3" y="876.1" textLength="14.1" lengthAdjust="spacingAndGlyphs" xml:space="preserve">0. 8</text>
<text class="ta" x="597.5" y="867.7" textLength="13.5" lengthAdjust="spacingAndGlyphs" xml:space="preserve">1. 0</text>
<text class="ta" x="613.6" y="859" textLength="13.5" lengthAdjust="spacingAndGlyphs" xml:space="preserve">1. 2</text>
<text class="ta" x="628.9" y="851.3" textLength="13.6" lengthAdjust="spacingAndGlyphs" xml:space="preserve">1. 4</text>
<text class="ta" x="643.5" y="844.2" textLength="12.8" lengthAdjust="spacingAndGlyphs" xml:space="preserve">1. 6</text>
<text class="ta" x="657.1" y="836" textLength="12.7" lengthAdjust="spacingAndGlyphs" xml:space="preserve">1. 8</text>
<text class="ta" x="670.6" y="829.3" textLength="12.8" lengthAdjust="spacingAndGlyphs" xml:space="preserve">2. 0</text>
<text class="tt" x="424.9" y="871.3" textLength="35.2" lengthAdjust="spacingAndGlyphs">Angle/<tspan style="stroke:none;font-size:10.5px">&#176;</tspan></text>
<text class="tc" x="620" y="865.7" textLength="50.6" lengthAdjust="spacingAndGlyphs">Coefficient</text>
<text class="ty" transform="translate(368.5 846.2) rotate(-93.82)" textLength="187.6" lengthAdjust="spacingAndGlyphs">Peak transverse curvature at the bottom of pier No.1/m<tspan dy="-3" font-size="5.5">-1</tspan></text>
<text class="cap cp" x="467.4" y="925.3">(</text><text class="cap" x="476.5" y="926.7">f</text><text class="cap cp" x="486.2" y="925.3">)</text></g>
</svg></body></html>
